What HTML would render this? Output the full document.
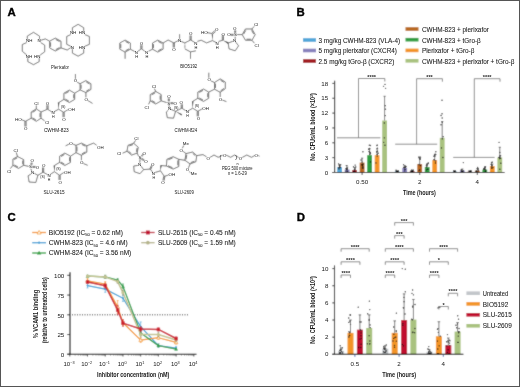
<!DOCTYPE html>
<html><head><meta charset="utf-8"><style>html,body{margin:0;padding:0;background:#fff;}svg{display:block;will-change:transform;}</style></head>
<body><svg width="520" height="387" viewBox="0 0 520 387" font-family="Liberation Sans, sans-serif"><defs><filter id="bl" filterUnits="userSpaceOnUse" x="0" y="0" width="520" height="387"><feConvolveMatrix order="3" kernelMatrix="0.03 0.08 0.03 0.08 0.56 0.08 0.03 0.08 0.03" preserveAlpha="false"/></filter></defs><g filter="url(#bl)"><rect x="0" y="0" width="520" height="387" fill="#fff"/><rect x="303.00" y="38.20" width="13.00" height="3.60" fill="#4fa6d9" />
<rect x="303.00" y="48.70" width="13.00" height="3.60" fill="#8781bd" />
<rect x="303.00" y="59.20" width="13.00" height="3.60" fill="#a0141f" />
<rect x="405.50" y="27.20" width="13.00" height="3.60" fill="#b8661f" />
<rect x="405.50" y="37.90" width="13.00" height="3.60" fill="#2f9e3f" />
<rect x="405.50" y="48.60" width="13.00" height="3.60" fill="#f39425" />
<rect x="405.50" y="59.00" width="13.00" height="3.60" fill="#a9c27f" />
<rect x="337.20" y="167.06" width="4.80" height="5.45" fill="#4fa6d9" />
<rect x="344.70" y="169.53" width="4.80" height="2.97" fill="#8781bd" />
<rect x="352.20" y="170.03" width="4.80" height="2.48" fill="#a0141f" />
<rect x="359.70" y="162.60" width="4.80" height="9.90" fill="#b8661f" />
<rect x="367.20" y="155.18" width="4.80" height="17.32" fill="#2f9e3f" />
<rect x="374.70" y="155.18" width="4.80" height="17.32" fill="#f39425" />
<rect x="382.20" y="120.53" width="4.80" height="51.98" fill="#a9c27f" />
<line x1="339.60" y1="165.07" x2="339.60" y2="167.06" stroke="#222" stroke-width="0.6" />
<line x1="338.50" y1="165.07" x2="340.70" y2="165.07" stroke="#222" stroke-width="0.6" />
<circle cx="338.57" cy="163.84" r="0.68" fill="#111"/>
<circle cx="338.62" cy="167.57" r="0.68" fill="#111"/>
<circle cx="339.42" cy="166.02" r="0.68" fill="#111"/>
<circle cx="340.38" cy="167.51" r="0.68" fill="#111"/>
<circle cx="338.70" cy="167.69" r="0.68" fill="#111"/>
<circle cx="338.94" cy="168.94" r="0.68" fill="#111"/>
<circle cx="339.91" cy="167.49" r="0.68" fill="#111"/>
<circle cx="340.67" cy="164.80" r="0.68" fill="#111"/>
<circle cx="339.79" cy="166.19" r="0.68" fill="#111"/>
<circle cx="339.35" cy="164.95" r="0.68" fill="#111"/>
<line x1="347.10" y1="167.06" x2="347.10" y2="169.53" stroke="#222" stroke-width="0.6" />
<line x1="346.00" y1="167.06" x2="348.20" y2="167.06" stroke="#222" stroke-width="0.6" />
<circle cx="346.33" cy="165.57" r="0.68" fill="#111"/>
<circle cx="347.30" cy="168.91" r="0.68" fill="#111"/>
<circle cx="347.43" cy="168.77" r="0.68" fill="#111"/>
<circle cx="346.79" cy="169.64" r="0.68" fill="#111"/>
<circle cx="347.21" cy="168.24" r="0.68" fill="#111"/>
<circle cx="346.05" cy="171.12" r="0.68" fill="#111"/>
<circle cx="346.04" cy="168.77" r="0.68" fill="#111"/>
<circle cx="346.39" cy="168.55" r="0.68" fill="#111"/>
<circle cx="347.53" cy="171.17" r="0.68" fill="#111"/>
<circle cx="346.93" cy="165.57" r="0.68" fill="#111"/>
<line x1="354.60" y1="167.55" x2="354.60" y2="170.03" stroke="#222" stroke-width="0.6" />
<line x1="353.50" y1="167.55" x2="355.70" y2="167.55" stroke="#222" stroke-width="0.6" />
<circle cx="355.15" cy="165.07" r="0.68" fill="#111"/>
<circle cx="354.09" cy="171.31" r="0.68" fill="#111"/>
<circle cx="355.75" cy="167.00" r="0.68" fill="#111"/>
<circle cx="353.68" cy="172.02" r="0.68" fill="#111"/>
<circle cx="354.40" cy="169.42" r="0.68" fill="#111"/>
<circle cx="355.22" cy="168.97" r="0.68" fill="#111"/>
<circle cx="353.76" cy="172.25" r="0.68" fill="#111"/>
<circle cx="354.57" cy="169.91" r="0.68" fill="#111"/>
<circle cx="353.49" cy="166.79" r="0.68" fill="#111"/>
<circle cx="355.00" cy="172.25" r="0.68" fill="#111"/>
<line x1="362.10" y1="158.15" x2="362.10" y2="162.60" stroke="#222" stroke-width="0.6" />
<line x1="361.00" y1="158.15" x2="363.20" y2="158.15" stroke="#222" stroke-width="0.6" />
<circle cx="362.92" cy="151.71" r="0.68" fill="#111"/>
<circle cx="363.17" cy="163.97" r="0.68" fill="#111"/>
<circle cx="362.04" cy="162.09" r="0.68" fill="#111"/>
<circle cx="362.49" cy="167.95" r="0.68" fill="#111"/>
<circle cx="361.05" cy="159.98" r="0.68" fill="#111"/>
<circle cx="362.58" cy="165.20" r="0.68" fill="#111"/>
<circle cx="362.45" cy="164.53" r="0.68" fill="#111"/>
<circle cx="363.28" cy="167.95" r="0.68" fill="#111"/>
<circle cx="362.87" cy="166.72" r="0.68" fill="#111"/>
<circle cx="361.58" cy="164.86" r="0.68" fill="#111"/>
<line x1="369.60" y1="148.74" x2="369.60" y2="155.18" stroke="#222" stroke-width="0.6" />
<line x1="368.50" y1="148.74" x2="370.70" y2="148.74" stroke="#222" stroke-width="0.6" />
<circle cx="369.34" cy="145.28" r="0.68" fill="#111"/>
<circle cx="370.49" cy="161.94" r="0.68" fill="#111"/>
<circle cx="368.59" cy="149.27" r="0.68" fill="#111"/>
<circle cx="369.48" cy="148.52" r="0.68" fill="#111"/>
<circle cx="369.72" cy="154.23" r="0.68" fill="#111"/>
<circle cx="370.52" cy="153.69" r="0.68" fill="#111"/>
<circle cx="370.37" cy="152.55" r="0.68" fill="#111"/>
<circle cx="370.47" cy="145.55" r="0.68" fill="#111"/>
<circle cx="369.07" cy="151.44" r="0.68" fill="#111"/>
<circle cx="369.40" cy="152.04" r="0.68" fill="#111"/>
<line x1="377.10" y1="148.74" x2="377.10" y2="155.18" stroke="#222" stroke-width="0.6" />
<line x1="376.00" y1="148.74" x2="378.20" y2="148.74" stroke="#222" stroke-width="0.6" />
<circle cx="377.31" cy="145.28" r="0.68" fill="#111"/>
<circle cx="376.53" cy="151.87" r="0.68" fill="#111"/>
<circle cx="375.91" cy="162.90" r="0.68" fill="#111"/>
<circle cx="376.91" cy="145.45" r="0.68" fill="#111"/>
<circle cx="376.79" cy="151.84" r="0.68" fill="#111"/>
<circle cx="377.26" cy="156.08" r="0.68" fill="#111"/>
<circle cx="378.19" cy="153.21" r="0.68" fill="#111"/>
<circle cx="377.56" cy="151.25" r="0.68" fill="#111"/>
<circle cx="377.14" cy="154.45" r="0.68" fill="#111"/>
<circle cx="377.38" cy="148.26" r="0.68" fill="#111"/>
<line x1="384.60" y1="96.27" x2="384.60" y2="120.53" stroke="#222" stroke-width="0.6" />
<line x1="383.50" y1="96.27" x2="385.70" y2="96.27" stroke="#222" stroke-width="0.6" />
<circle cx="385.02" cy="84.39" r="0.68" fill="#111"/>
<circle cx="383.53" cy="86.37" r="0.68" fill="#111"/>
<circle cx="385.56" cy="88.35" r="0.68" fill="#111"/>
<circle cx="385.27" cy="105.67" r="0.68" fill="#111"/>
<circle cx="385.50" cy="109.14" r="0.68" fill="#111"/>
<circle cx="385.31" cy="115.57" r="0.68" fill="#111"/>
<circle cx="384.34" cy="123.00" r="0.68" fill="#111"/>
<circle cx="384.36" cy="137.85" r="0.68" fill="#111"/>
<circle cx="383.65" cy="142.31" r="0.68" fill="#111"/>
<circle cx="384.92" cy="145.28" r="0.68" fill="#111"/>
<line x1="362.10" y1="172.50" x2="362.10" y2="175.00" stroke="#000" stroke-width="0.7" />
<rect x="394.80" y="171.51" width="4.80" height="0.99" fill="#4fa6d9" />
<rect x="402.30" y="168.04" width="4.80" height="4.46" fill="#8781bd" />
<rect x="409.80" y="171.26" width="4.80" height="1.24" fill="#a0141f" />
<rect x="417.30" y="164.09" width="4.80" height="8.42" fill="#b8661f" />
<rect x="424.80" y="167.06" width="4.80" height="5.45" fill="#2f9e3f" />
<rect x="432.30" y="160.12" width="4.80" height="12.38" fill="#f39425" />
<rect x="439.80" y="137.85" width="4.80" height="34.65" fill="#a9c27f" />
<line x1="397.20" y1="171.01" x2="397.20" y2="171.51" stroke="#222" stroke-width="0.6" />
<line x1="396.10" y1="171.01" x2="398.30" y2="171.01" stroke="#222" stroke-width="0.6" />
<circle cx="396.06" cy="170.27" r="0.68" fill="#111"/>
<circle cx="398.10" cy="171.27" r="0.68" fill="#111"/>
<circle cx="397.47" cy="171.41" r="0.68" fill="#111"/>
<circle cx="396.36" cy="171.40" r="0.68" fill="#111"/>
<circle cx="396.61" cy="171.11" r="0.68" fill="#111"/>
<circle cx="396.83" cy="171.63" r="0.68" fill="#111"/>
<circle cx="396.87" cy="171.32" r="0.68" fill="#111"/>
<circle cx="396.29" cy="171.11" r="0.68" fill="#111"/>
<circle cx="398.04" cy="171.51" r="0.68" fill="#111"/>
<circle cx="398.38" cy="170.98" r="0.68" fill="#111"/>
<line x1="404.70" y1="165.57" x2="404.70" y2="168.04" stroke="#222" stroke-width="0.6" />
<line x1="403.60" y1="165.57" x2="405.80" y2="165.57" stroke="#222" stroke-width="0.6" />
<circle cx="403.56" cy="164.58" r="0.68" fill="#111"/>
<circle cx="405.78" cy="166.64" r="0.68" fill="#111"/>
<circle cx="404.77" cy="170.83" r="0.68" fill="#111"/>
<circle cx="403.85" cy="167.44" r="0.68" fill="#111"/>
<circle cx="404.80" cy="167.06" r="0.68" fill="#111"/>
<circle cx="403.56" cy="167.45" r="0.68" fill="#111"/>
<circle cx="404.77" cy="169.11" r="0.68" fill="#111"/>
<circle cx="405.85" cy="166.42" r="0.68" fill="#111"/>
<circle cx="405.57" cy="167.35" r="0.68" fill="#111"/>
<circle cx="405.17" cy="169.34" r="0.68" fill="#111"/>
<line x1="412.20" y1="170.77" x2="412.20" y2="171.26" stroke="#222" stroke-width="0.6" />
<line x1="411.10" y1="170.77" x2="413.30" y2="170.77" stroke="#222" stroke-width="0.6" />
<circle cx="413.05" cy="170.03" r="0.68" fill="#111"/>
<circle cx="412.93" cy="171.31" r="0.68" fill="#111"/>
<circle cx="412.96" cy="170.60" r="0.68" fill="#111"/>
<circle cx="412.78" cy="170.67" r="0.68" fill="#111"/>
<circle cx="411.54" cy="170.23" r="0.68" fill="#111"/>
<circle cx="412.24" cy="171.86" r="0.68" fill="#111"/>
<circle cx="411.85" cy="171.51" r="0.68" fill="#111"/>
<circle cx="411.07" cy="171.50" r="0.68" fill="#111"/>
<circle cx="411.07" cy="170.83" r="0.68" fill="#111"/>
<circle cx="411.67" cy="170.51" r="0.68" fill="#111"/>
<line x1="419.70" y1="158.64" x2="419.70" y2="164.09" stroke="#222" stroke-width="0.6" />
<line x1="418.60" y1="158.64" x2="420.80" y2="158.64" stroke="#222" stroke-width="0.6" />
<circle cx="419.03" cy="157.16" r="0.68" fill="#111"/>
<circle cx="419.04" cy="170.62" r="0.68" fill="#111"/>
<circle cx="418.97" cy="164.54" r="0.68" fill="#111"/>
<circle cx="418.99" cy="157.16" r="0.68" fill="#111"/>
<circle cx="420.00" cy="158.69" r="0.68" fill="#111"/>
<circle cx="420.66" cy="165.60" r="0.68" fill="#111"/>
<circle cx="420.52" cy="157.16" r="0.68" fill="#111"/>
<circle cx="419.65" cy="169.99" r="0.68" fill="#111"/>
<circle cx="420.07" cy="159.38" r="0.68" fill="#111"/>
<circle cx="420.42" cy="165.45" r="0.68" fill="#111"/>
<line x1="427.20" y1="164.58" x2="427.20" y2="167.06" stroke="#222" stroke-width="0.6" />
<line x1="426.10" y1="164.58" x2="428.30" y2="164.58" stroke="#222" stroke-width="0.6" />
<circle cx="428.33" cy="163.09" r="0.68" fill="#111"/>
<circle cx="426.95" cy="163.92" r="0.68" fill="#111"/>
<circle cx="426.96" cy="165.21" r="0.68" fill="#111"/>
<circle cx="428.27" cy="163.41" r="0.68" fill="#111"/>
<circle cx="427.74" cy="169.38" r="0.68" fill="#111"/>
<circle cx="426.41" cy="167.05" r="0.68" fill="#111"/>
<circle cx="426.30" cy="169.88" r="0.68" fill="#111"/>
<circle cx="426.36" cy="165.16" r="0.68" fill="#111"/>
<circle cx="428.17" cy="163.12" r="0.68" fill="#111"/>
<circle cx="427.94" cy="169.26" r="0.68" fill="#111"/>
<line x1="434.70" y1="156.16" x2="434.70" y2="160.12" stroke="#222" stroke-width="0.6" />
<line x1="433.60" y1="156.16" x2="435.80" y2="156.16" stroke="#222" stroke-width="0.6" />
<circle cx="435.83" cy="151.71" r="0.68" fill="#111"/>
<circle cx="435.06" cy="154.18" r="0.68" fill="#111"/>
<circle cx="434.76" cy="155.79" r="0.68" fill="#111"/>
<circle cx="435.74" cy="154.46" r="0.68" fill="#111"/>
<circle cx="434.54" cy="154.59" r="0.68" fill="#111"/>
<circle cx="435.59" cy="160.81" r="0.68" fill="#111"/>
<circle cx="435.48" cy="162.96" r="0.68" fill="#111"/>
<circle cx="434.01" cy="156.24" r="0.68" fill="#111"/>
<circle cx="434.10" cy="159.69" r="0.68" fill="#111"/>
<circle cx="434.20" cy="159.65" r="0.68" fill="#111"/>
<line x1="442.20" y1="121.51" x2="442.20" y2="137.85" stroke="#222" stroke-width="0.6" />
<line x1="441.10" y1="121.51" x2="443.30" y2="121.51" stroke="#222" stroke-width="0.6" />
<circle cx="442.01" cy="100.23" r="0.68" fill="#111"/>
<circle cx="443.20" cy="136.67" r="0.68" fill="#111"/>
<circle cx="442.20" cy="118.02" r="0.68" fill="#111"/>
<circle cx="442.28" cy="138.77" r="0.68" fill="#111"/>
<circle cx="442.26" cy="122.30" r="0.68" fill="#111"/>
<circle cx="441.04" cy="115.55" r="0.68" fill="#111"/>
<circle cx="442.06" cy="113.78" r="0.68" fill="#111"/>
<circle cx="441.44" cy="147.89" r="0.68" fill="#111"/>
<circle cx="441.01" cy="124.70" r="0.68" fill="#111"/>
<circle cx="442.92" cy="157.45" r="0.68" fill="#111"/>
<line x1="419.70" y1="172.50" x2="419.70" y2="175.00" stroke="#000" stroke-width="0.7" />
<rect x="452.40" y="171.76" width="4.80" height="0.74" fill="#4fa6d9" />
<rect x="459.90" y="170.52" width="4.80" height="1.98" fill="#8781bd" />
<rect x="467.40" y="171.76" width="4.80" height="0.74" fill="#a0141f" />
<rect x="474.90" y="170.77" width="4.80" height="1.73" fill="#b8661f" />
<rect x="482.40" y="169.53" width="4.80" height="2.97" fill="#2f9e3f" />
<rect x="489.90" y="166.06" width="4.80" height="6.44" fill="#f39425" />
<rect x="497.40" y="157.40" width="4.80" height="15.10" fill="#a9c27f" />
<line x1="454.80" y1="171.26" x2="454.80" y2="171.76" stroke="#222" stroke-width="0.6" />
<line x1="453.70" y1="171.26" x2="455.90" y2="171.26" stroke="#222" stroke-width="0.6" />
<circle cx="453.85" cy="170.77" r="0.68" fill="#111"/>
<circle cx="454.94" cy="172.25" r="0.68" fill="#111"/>
<circle cx="454.20" cy="171.39" r="0.68" fill="#111"/>
<circle cx="454.26" cy="171.06" r="0.68" fill="#111"/>
<circle cx="455.45" cy="171.89" r="0.68" fill="#111"/>
<circle cx="454.82" cy="172.25" r="0.68" fill="#111"/>
<circle cx="454.95" cy="172.14" r="0.68" fill="#111"/>
<circle cx="455.42" cy="171.01" r="0.68" fill="#111"/>
<circle cx="455.79" cy="172.25" r="0.68" fill="#111"/>
<circle cx="454.66" cy="172.17" r="0.68" fill="#111"/>
<line x1="462.30" y1="169.03" x2="462.30" y2="170.52" stroke="#222" stroke-width="0.6" />
<line x1="461.20" y1="169.03" x2="463.40" y2="169.03" stroke="#222" stroke-width="0.6" />
<circle cx="463.36" cy="162.60" r="0.68" fill="#111"/>
<circle cx="461.72" cy="171.95" r="0.68" fill="#111"/>
<circle cx="462.44" cy="171.74" r="0.68" fill="#111"/>
<circle cx="463.36" cy="172.25" r="0.68" fill="#111"/>
<circle cx="463.12" cy="170.71" r="0.68" fill="#111"/>
<circle cx="461.43" cy="172.25" r="0.68" fill="#111"/>
<circle cx="461.39" cy="169.94" r="0.68" fill="#111"/>
<circle cx="462.16" cy="172.25" r="0.68" fill="#111"/>
<circle cx="461.27" cy="170.00" r="0.68" fill="#111"/>
<circle cx="461.68" cy="171.54" r="0.68" fill="#111"/>
<line x1="469.80" y1="171.26" x2="469.80" y2="171.76" stroke="#222" stroke-width="0.6" />
<line x1="468.70" y1="171.26" x2="470.90" y2="171.26" stroke="#222" stroke-width="0.6" />
<circle cx="470.72" cy="170.77" r="0.68" fill="#111"/>
<circle cx="470.92" cy="172.25" r="0.68" fill="#111"/>
<circle cx="469.13" cy="170.83" r="0.68" fill="#111"/>
<circle cx="470.89" cy="171.30" r="0.68" fill="#111"/>
<circle cx="469.56" cy="171.44" r="0.68" fill="#111"/>
<circle cx="469.77" cy="172.25" r="0.68" fill="#111"/>
<circle cx="470.98" cy="171.14" r="0.68" fill="#111"/>
<circle cx="470.60" cy="170.85" r="0.68" fill="#111"/>
<circle cx="468.99" cy="171.96" r="0.68" fill="#111"/>
<circle cx="469.64" cy="172.08" r="0.68" fill="#111"/>
<line x1="477.30" y1="168.54" x2="477.30" y2="170.77" stroke="#222" stroke-width="0.6" />
<line x1="476.20" y1="168.54" x2="478.40" y2="168.54" stroke="#222" stroke-width="0.6" />
<circle cx="477.60" cy="167.55" r="0.68" fill="#111"/>
<circle cx="477.33" cy="172.25" r="0.68" fill="#111"/>
<circle cx="476.25" cy="170.97" r="0.68" fill="#111"/>
<circle cx="478.46" cy="170.11" r="0.68" fill="#111"/>
<circle cx="477.99" cy="168.91" r="0.68" fill="#111"/>
<circle cx="478.43" cy="170.85" r="0.68" fill="#111"/>
<circle cx="476.35" cy="171.21" r="0.68" fill="#111"/>
<circle cx="476.74" cy="172.25" r="0.68" fill="#111"/>
<circle cx="476.20" cy="171.58" r="0.68" fill="#111"/>
<circle cx="477.97" cy="168.76" r="0.68" fill="#111"/>
<line x1="484.80" y1="168.04" x2="484.80" y2="169.53" stroke="#222" stroke-width="0.6" />
<line x1="483.70" y1="168.04" x2="485.90" y2="168.04" stroke="#222" stroke-width="0.6" />
<circle cx="484.97" cy="166.56" r="0.68" fill="#111"/>
<circle cx="485.28" cy="169.37" r="0.68" fill="#111"/>
<circle cx="483.81" cy="169.64" r="0.68" fill="#111"/>
<circle cx="483.74" cy="168.70" r="0.68" fill="#111"/>
<circle cx="485.25" cy="171.31" r="0.68" fill="#111"/>
<circle cx="484.62" cy="167.89" r="0.68" fill="#111"/>
<circle cx="483.77" cy="169.02" r="0.68" fill="#111"/>
<circle cx="485.85" cy="170.64" r="0.68" fill="#111"/>
<circle cx="485.12" cy="167.43" r="0.68" fill="#111"/>
<circle cx="485.52" cy="166.66" r="0.68" fill="#111"/>
<line x1="492.30" y1="164.09" x2="492.30" y2="166.06" stroke="#222" stroke-width="0.6" />
<line x1="491.20" y1="164.09" x2="493.40" y2="164.09" stroke="#222" stroke-width="0.6" />
<circle cx="492.36" cy="162.10" r="0.68" fill="#111"/>
<circle cx="491.67" cy="162.61" r="0.68" fill="#111"/>
<circle cx="491.36" cy="164.06" r="0.68" fill="#111"/>
<circle cx="491.49" cy="162.37" r="0.68" fill="#111"/>
<circle cx="491.22" cy="164.42" r="0.68" fill="#111"/>
<circle cx="491.58" cy="167.83" r="0.68" fill="#111"/>
<circle cx="491.85" cy="165.54" r="0.68" fill="#111"/>
<circle cx="491.83" cy="168.44" r="0.68" fill="#111"/>
<circle cx="492.92" cy="167.58" r="0.68" fill="#111"/>
<circle cx="491.80" cy="166.18" r="0.68" fill="#111"/>
<line x1="499.80" y1="147.25" x2="499.80" y2="157.40" stroke="#222" stroke-width="0.6" />
<line x1="498.70" y1="147.25" x2="500.90" y2="147.25" stroke="#222" stroke-width="0.6" />
<circle cx="499.05" cy="142.31" r="0.68" fill="#111"/>
<circle cx="499.74" cy="152.50" r="0.68" fill="#111"/>
<circle cx="500.84" cy="163.27" r="0.68" fill="#111"/>
<circle cx="498.86" cy="157.41" r="0.68" fill="#111"/>
<circle cx="500.57" cy="158.43" r="0.68" fill="#111"/>
<circle cx="499.64" cy="155.93" r="0.68" fill="#111"/>
<circle cx="499.79" cy="157.41" r="0.68" fill="#111"/>
<circle cx="500.60" cy="155.75" r="0.68" fill="#111"/>
<circle cx="499.54" cy="158.66" r="0.68" fill="#111"/>
<circle cx="499.82" cy="169.21" r="0.68" fill="#111"/>
<line x1="477.30" y1="172.50" x2="477.30" y2="175.00" stroke="#000" stroke-width="0.7" />
<line x1="334.60" y1="80.70" x2="334.60" y2="173.00" stroke="#000" stroke-width="1.1" />
<line x1="332.30" y1="172.50" x2="504.50" y2="172.50" stroke="#000" stroke-width="1.1" />
<line x1="332.30" y1="172.50" x2="334.60" y2="172.50" stroke="#000" stroke-width="0.8" />
<line x1="332.30" y1="157.65" x2="334.60" y2="157.65" stroke="#000" stroke-width="0.8" />
<line x1="332.30" y1="142.80" x2="334.60" y2="142.80" stroke="#000" stroke-width="0.8" />
<line x1="332.30" y1="127.95" x2="334.60" y2="127.95" stroke="#000" stroke-width="0.8" />
<line x1="332.30" y1="113.10" x2="334.60" y2="113.10" stroke="#000" stroke-width="0.8" />
<line x1="332.30" y1="98.25" x2="334.60" y2="98.25" stroke="#000" stroke-width="0.8" />
<line x1="332.30" y1="83.40" x2="334.60" y2="83.40" stroke="#000" stroke-width="0.8" />
<line x1="337.00" y1="137.80" x2="380.40" y2="137.80" stroke="#6a6a6a" stroke-width="0.8" />
<line x1="358.50" y1="137.80" x2="358.50" y2="78.50" stroke="#6a6a6a" stroke-width="0.8" />
<line x1="358.50" y1="78.50" x2="384.80" y2="78.50" stroke="#6a6a6a" stroke-width="0.8" />
<line x1="384.80" y1="78.50" x2="384.80" y2="81.50" stroke="#6a6a6a" stroke-width="0.8" />
<line x1="395.20" y1="144.20" x2="437.20" y2="144.20" stroke="#6a6a6a" stroke-width="0.8" />
<line x1="416.60" y1="144.20" x2="416.60" y2="78.70" stroke="#6a6a6a" stroke-width="0.8" />
<line x1="416.60" y1="78.70" x2="442.40" y2="78.70" stroke="#6a6a6a" stroke-width="0.8" />
<line x1="442.40" y1="78.70" x2="442.40" y2="81.70" stroke="#6a6a6a" stroke-width="0.8" />
<line x1="453.20" y1="157.40" x2="494.60" y2="157.40" stroke="#6a6a6a" stroke-width="0.8" />
<line x1="474.30" y1="157.40" x2="474.30" y2="78.70" stroke="#6a6a6a" stroke-width="0.8" />
<line x1="474.30" y1="78.70" x2="500.00" y2="78.70" stroke="#6a6a6a" stroke-width="0.8" />
<line x1="500.00" y1="78.70" x2="500.00" y2="81.70" stroke="#6a6a6a" stroke-width="0.8" />
<line x1="32.20" y1="232.50" x2="46.00" y2="232.50" stroke="#f39425" stroke-width="1.3" />
<polygon points="39.10,230.43 41.17,234.00 37.03,234.00" fill="#fff" stroke="#f39425" stroke-width="0.7"/>
<line x1="32.20" y1="242.70" x2="46.00" y2="242.70" stroke="#3a9fd6" stroke-width="1.3" />
<circle cx="39.10" cy="242.70" r="1.15" fill="#3a9fd6"/>
<line x1="32.20" y1="253.00" x2="46.00" y2="253.00" stroke="#2f9e3f" stroke-width="1.3" />
<polygon points="39.10,250.81 41.29,254.61 36.91,254.61" fill="#2f9e3f"/>
<line x1="141.20" y1="232.50" x2="154.60" y2="232.50" stroke="#c0102e" stroke-width="1.3" />
<rect x="145.94" y="230.54" width="3.91" height="3.91" fill="#c0102e" />
<line x1="141.20" y1="242.70" x2="154.60" y2="242.70" stroke="#b4b38a" stroke-width="1.3" />
<circle cx="147.90" cy="242.70" r="1.8399999999999999" fill="#b4b38a"/>
<line x1="70.00" y1="272.20" x2="70.00" y2="354.80" stroke="#000" stroke-width="1.1" />
<line x1="67.20" y1="354.30" x2="196.50" y2="354.30" stroke="#000" stroke-width="1.1" />
<line x1="67.20" y1="354.30" x2="70.00" y2="354.30" stroke="#000" stroke-width="0.8" />
<line x1="67.20" y1="334.55" x2="70.00" y2="334.55" stroke="#000" stroke-width="0.8" />
<line x1="67.20" y1="314.80" x2="70.00" y2="314.80" stroke="#000" stroke-width="0.8" />
<line x1="67.20" y1="295.05" x2="70.00" y2="295.05" stroke="#000" stroke-width="0.8" />
<line x1="67.20" y1="275.30" x2="70.00" y2="275.30" stroke="#000" stroke-width="0.8" />
<line x1="69.80" y1="354.30" x2="69.80" y2="356.50" stroke="#000" stroke-width="0.7" />
<line x1="75.13" y1="354.30" x2="75.13" y2="355.50" stroke="#000" stroke-width="0.5" />
<line x1="78.25" y1="354.30" x2="78.25" y2="355.50" stroke="#000" stroke-width="0.5" />
<line x1="80.47" y1="354.30" x2="80.47" y2="355.50" stroke="#000" stroke-width="0.5" />
<line x1="82.19" y1="354.30" x2="82.19" y2="355.50" stroke="#000" stroke-width="0.5" />
<line x1="83.59" y1="354.30" x2="83.59" y2="355.50" stroke="#000" stroke-width="0.5" />
<line x1="84.78" y1="354.30" x2="84.78" y2="355.50" stroke="#000" stroke-width="0.5" />
<line x1="85.80" y1="354.30" x2="85.80" y2="355.50" stroke="#000" stroke-width="0.5" />
<line x1="86.71" y1="354.30" x2="86.71" y2="355.50" stroke="#000" stroke-width="0.5" />
<line x1="87.52" y1="354.30" x2="87.52" y2="356.50" stroke="#000" stroke-width="0.7" />
<line x1="92.85" y1="354.30" x2="92.85" y2="355.50" stroke="#000" stroke-width="0.5" />
<line x1="95.97" y1="354.30" x2="95.97" y2="355.50" stroke="#000" stroke-width="0.5" />
<line x1="98.19" y1="354.30" x2="98.19" y2="355.50" stroke="#000" stroke-width="0.5" />
<line x1="99.91" y1="354.30" x2="99.91" y2="355.50" stroke="#000" stroke-width="0.5" />
<line x1="101.31" y1="354.30" x2="101.31" y2="355.50" stroke="#000" stroke-width="0.5" />
<line x1="102.50" y1="354.30" x2="102.50" y2="355.50" stroke="#000" stroke-width="0.5" />
<line x1="103.52" y1="354.30" x2="103.52" y2="355.50" stroke="#000" stroke-width="0.5" />
<line x1="104.43" y1="354.30" x2="104.43" y2="355.50" stroke="#000" stroke-width="0.5" />
<line x1="105.24" y1="354.30" x2="105.24" y2="356.50" stroke="#000" stroke-width="0.7" />
<line x1="110.57" y1="354.30" x2="110.57" y2="355.50" stroke="#000" stroke-width="0.5" />
<line x1="113.69" y1="354.30" x2="113.69" y2="355.50" stroke="#000" stroke-width="0.5" />
<line x1="115.91" y1="354.30" x2="115.91" y2="355.50" stroke="#000" stroke-width="0.5" />
<line x1="117.63" y1="354.30" x2="117.63" y2="355.50" stroke="#000" stroke-width="0.5" />
<line x1="119.03" y1="354.30" x2="119.03" y2="355.50" stroke="#000" stroke-width="0.5" />
<line x1="120.22" y1="354.30" x2="120.22" y2="355.50" stroke="#000" stroke-width="0.5" />
<line x1="121.24" y1="354.30" x2="121.24" y2="355.50" stroke="#000" stroke-width="0.5" />
<line x1="122.15" y1="354.30" x2="122.15" y2="355.50" stroke="#000" stroke-width="0.5" />
<line x1="122.96" y1="354.30" x2="122.96" y2="356.50" stroke="#000" stroke-width="0.7" />
<line x1="128.29" y1="354.30" x2="128.29" y2="355.50" stroke="#000" stroke-width="0.5" />
<line x1="131.41" y1="354.30" x2="131.41" y2="355.50" stroke="#000" stroke-width="0.5" />
<line x1="133.63" y1="354.30" x2="133.63" y2="355.50" stroke="#000" stroke-width="0.5" />
<line x1="135.35" y1="354.30" x2="135.35" y2="355.50" stroke="#000" stroke-width="0.5" />
<line x1="136.75" y1="354.30" x2="136.75" y2="355.50" stroke="#000" stroke-width="0.5" />
<line x1="137.94" y1="354.30" x2="137.94" y2="355.50" stroke="#000" stroke-width="0.5" />
<line x1="138.96" y1="354.30" x2="138.96" y2="355.50" stroke="#000" stroke-width="0.5" />
<line x1="139.87" y1="354.30" x2="139.87" y2="355.50" stroke="#000" stroke-width="0.5" />
<line x1="140.68" y1="354.30" x2="140.68" y2="356.50" stroke="#000" stroke-width="0.7" />
<line x1="146.01" y1="354.30" x2="146.01" y2="355.50" stroke="#000" stroke-width="0.5" />
<line x1="149.13" y1="354.30" x2="149.13" y2="355.50" stroke="#000" stroke-width="0.5" />
<line x1="151.35" y1="354.30" x2="151.35" y2="355.50" stroke="#000" stroke-width="0.5" />
<line x1="153.07" y1="354.30" x2="153.07" y2="355.50" stroke="#000" stroke-width="0.5" />
<line x1="154.47" y1="354.30" x2="154.47" y2="355.50" stroke="#000" stroke-width="0.5" />
<line x1="155.66" y1="354.30" x2="155.66" y2="355.50" stroke="#000" stroke-width="0.5" />
<line x1="156.68" y1="354.30" x2="156.68" y2="355.50" stroke="#000" stroke-width="0.5" />
<line x1="157.59" y1="354.30" x2="157.59" y2="355.50" stroke="#000" stroke-width="0.5" />
<line x1="158.40" y1="354.30" x2="158.40" y2="356.50" stroke="#000" stroke-width="0.7" />
<line x1="163.73" y1="354.30" x2="163.73" y2="355.50" stroke="#000" stroke-width="0.5" />
<line x1="166.85" y1="354.30" x2="166.85" y2="355.50" stroke="#000" stroke-width="0.5" />
<line x1="169.07" y1="354.30" x2="169.07" y2="355.50" stroke="#000" stroke-width="0.5" />
<line x1="170.79" y1="354.30" x2="170.79" y2="355.50" stroke="#000" stroke-width="0.5" />
<line x1="172.19" y1="354.30" x2="172.19" y2="355.50" stroke="#000" stroke-width="0.5" />
<line x1="173.38" y1="354.30" x2="173.38" y2="355.50" stroke="#000" stroke-width="0.5" />
<line x1="174.40" y1="354.30" x2="174.40" y2="355.50" stroke="#000" stroke-width="0.5" />
<line x1="175.31" y1="354.30" x2="175.31" y2="355.50" stroke="#000" stroke-width="0.5" />
<line x1="176.12" y1="354.30" x2="176.12" y2="356.50" stroke="#000" stroke-width="0.7" />
<line x1="181.45" y1="354.30" x2="181.45" y2="355.50" stroke="#000" stroke-width="0.5" />
<line x1="184.57" y1="354.30" x2="184.57" y2="355.50" stroke="#000" stroke-width="0.5" />
<line x1="186.79" y1="354.30" x2="186.79" y2="355.50" stroke="#000" stroke-width="0.5" />
<line x1="188.51" y1="354.30" x2="188.51" y2="355.50" stroke="#000" stroke-width="0.5" />
<line x1="189.91" y1="354.30" x2="189.91" y2="355.50" stroke="#000" stroke-width="0.5" />
<line x1="191.10" y1="354.30" x2="191.10" y2="355.50" stroke="#000" stroke-width="0.5" />
<line x1="192.12" y1="354.30" x2="192.12" y2="355.50" stroke="#000" stroke-width="0.5" />
<line x1="193.03" y1="354.30" x2="193.03" y2="355.50" stroke="#000" stroke-width="0.5" />
<line x1="193.84" y1="354.30" x2="193.84" y2="356.50" stroke="#000" stroke-width="0.7" />
<line x1="72" y1="314.80" x2="189" y2="314.80" stroke="#222" stroke-width="1.0" stroke-dasharray="1,1.5"/>
<polyline points="87.52,285.57 105.24,289.12 122.96,298.21 140.68,326.65 158.40,345.61 176.12,347.98" fill="none" stroke="#3a9fd6" stroke-width="1.2" stroke-linejoin="round" />
<line x1="87.52" y1="283.20" x2="87.52" y2="287.94" stroke="#3a9fd6" stroke-width="0.6" />
<line x1="86.52" y1="283.20" x2="88.52" y2="283.20" stroke="#3a9fd6" stroke-width="0.6" />
<line x1="86.52" y1="287.94" x2="88.52" y2="287.94" stroke="#3a9fd6" stroke-width="0.6" />
<circle cx="87.52" cy="285.57" r="1.0" fill="#3a9fd6"/>
<line x1="105.24" y1="285.97" x2="105.24" y2="292.29" stroke="#3a9fd6" stroke-width="0.6" />
<line x1="104.24" y1="285.97" x2="106.24" y2="285.97" stroke="#3a9fd6" stroke-width="0.6" />
<line x1="104.24" y1="292.29" x2="106.24" y2="292.29" stroke="#3a9fd6" stroke-width="0.6" />
<circle cx="105.24" cy="289.12" r="1.0" fill="#3a9fd6"/>
<line x1="122.96" y1="295.05" x2="122.96" y2="301.37" stroke="#3a9fd6" stroke-width="0.6" />
<line x1="121.96" y1="295.05" x2="123.96" y2="295.05" stroke="#3a9fd6" stroke-width="0.6" />
<line x1="121.96" y1="301.37" x2="123.96" y2="301.37" stroke="#3a9fd6" stroke-width="0.6" />
<circle cx="122.96" cy="298.21" r="1.0" fill="#3a9fd6"/>
<line x1="140.68" y1="321.91" x2="140.68" y2="331.39" stroke="#3a9fd6" stroke-width="0.6" />
<line x1="139.68" y1="321.91" x2="141.68" y2="321.91" stroke="#3a9fd6" stroke-width="0.6" />
<line x1="139.68" y1="331.39" x2="141.68" y2="331.39" stroke="#3a9fd6" stroke-width="0.6" />
<circle cx="140.68" cy="326.65" r="1.0" fill="#3a9fd6"/>
<line x1="158.40" y1="344.03" x2="158.40" y2="347.19" stroke="#3a9fd6" stroke-width="0.6" />
<line x1="157.40" y1="344.03" x2="159.40" y2="344.03" stroke="#3a9fd6" stroke-width="0.6" />
<line x1="157.40" y1="347.19" x2="159.40" y2="347.19" stroke="#3a9fd6" stroke-width="0.6" />
<circle cx="158.40" cy="345.61" r="1.0" fill="#3a9fd6"/>
<line x1="176.12" y1="346.40" x2="176.12" y2="349.56" stroke="#3a9fd6" stroke-width="0.6" />
<line x1="175.12" y1="346.40" x2="177.12" y2="346.40" stroke="#3a9fd6" stroke-width="0.6" />
<line x1="175.12" y1="349.56" x2="177.12" y2="349.56" stroke="#3a9fd6" stroke-width="0.6" />
<circle cx="176.12" cy="347.98" r="1.0" fill="#3a9fd6"/>
<polyline points="87.52,280.83 105.24,283.99 117.64,306.90 122.96,322.70 140.68,340.08 158.40,337.71 176.12,342.45" fill="none" stroke="#f39425" stroke-width="1.2" stroke-linejoin="round" />
<line x1="87.52" y1="278.46" x2="87.52" y2="283.20" stroke="#f39425" stroke-width="0.6" />
<line x1="86.52" y1="278.46" x2="88.52" y2="278.46" stroke="#f39425" stroke-width="0.6" />
<line x1="86.52" y1="283.20" x2="88.52" y2="283.20" stroke="#f39425" stroke-width="0.6" />
<polygon points="87.52,279.03 89.32,282.13 85.72,282.13" fill="#fff" stroke="#f39425" stroke-width="0.7"/>
<line x1="105.24" y1="281.62" x2="105.24" y2="286.36" stroke="#f39425" stroke-width="0.6" />
<line x1="104.24" y1="281.62" x2="106.24" y2="281.62" stroke="#f39425" stroke-width="0.6" />
<line x1="104.24" y1="286.36" x2="106.24" y2="286.36" stroke="#f39425" stroke-width="0.6" />
<polygon points="105.24,282.19 107.04,285.29 103.44,285.29" fill="#fff" stroke="#f39425" stroke-width="0.7"/>
<line x1="117.64" y1="300.58" x2="117.64" y2="313.22" stroke="#f39425" stroke-width="0.6" />
<line x1="116.64" y1="300.58" x2="118.64" y2="300.58" stroke="#f39425" stroke-width="0.6" />
<line x1="116.64" y1="313.22" x2="118.64" y2="313.22" stroke="#f39425" stroke-width="0.6" />
<polygon points="117.64,305.10 119.44,308.20 115.84,308.20" fill="#fff" stroke="#f39425" stroke-width="0.7"/>
<line x1="122.96" y1="319.54" x2="122.96" y2="325.86" stroke="#f39425" stroke-width="0.6" />
<line x1="121.96" y1="319.54" x2="123.96" y2="319.54" stroke="#f39425" stroke-width="0.6" />
<line x1="121.96" y1="325.86" x2="123.96" y2="325.86" stroke="#f39425" stroke-width="0.6" />
<polygon points="122.96,320.90 124.76,324.00 121.16,324.00" fill="#fff" stroke="#f39425" stroke-width="0.7"/>
<line x1="140.68" y1="337.71" x2="140.68" y2="342.45" stroke="#f39425" stroke-width="0.6" />
<line x1="139.68" y1="337.71" x2="141.68" y2="337.71" stroke="#f39425" stroke-width="0.6" />
<line x1="139.68" y1="342.45" x2="141.68" y2="342.45" stroke="#f39425" stroke-width="0.6" />
<polygon points="140.68,338.28 142.48,341.38 138.88,341.38" fill="#fff" stroke="#f39425" stroke-width="0.7"/>
<line x1="158.40" y1="336.13" x2="158.40" y2="339.29" stroke="#f39425" stroke-width="0.6" />
<line x1="157.40" y1="336.13" x2="159.40" y2="336.13" stroke="#f39425" stroke-width="0.6" />
<line x1="157.40" y1="339.29" x2="159.40" y2="339.29" stroke="#f39425" stroke-width="0.6" />
<polygon points="158.40,335.91 160.20,339.01 156.60,339.01" fill="#fff" stroke="#f39425" stroke-width="0.7"/>
<line x1="176.12" y1="340.87" x2="176.12" y2="344.03" stroke="#f39425" stroke-width="0.6" />
<line x1="175.12" y1="340.87" x2="177.12" y2="340.87" stroke="#f39425" stroke-width="0.6" />
<line x1="175.12" y1="344.03" x2="177.12" y2="344.03" stroke="#f39425" stroke-width="0.6" />
<polygon points="176.12,340.65 177.92,343.75 174.32,343.75" fill="#fff" stroke="#f39425" stroke-width="0.7"/>
<polyline points="87.52,276.09 105.24,276.88 117.64,280.04 122.96,286.36 140.68,332.97 158.40,345.61 176.12,349.17" fill="none" stroke="#2a9e4a" stroke-width="1.3" stroke-linejoin="round" />
<line x1="87.52" y1="275.30" x2="87.52" y2="276.88" stroke="#2a9e4a" stroke-width="0.6" />
<line x1="86.52" y1="275.30" x2="88.52" y2="275.30" stroke="#2a9e4a" stroke-width="0.6" />
<line x1="86.52" y1="276.88" x2="88.52" y2="276.88" stroke="#2a9e4a" stroke-width="0.6" />
<polygon points="87.52,274.19 89.42,277.49 85.62,277.49" fill="#2a9e4a"/>
<line x1="105.24" y1="275.30" x2="105.24" y2="278.46" stroke="#2a9e4a" stroke-width="0.6" />
<line x1="104.24" y1="275.30" x2="106.24" y2="275.30" stroke="#2a9e4a" stroke-width="0.6" />
<line x1="104.24" y1="278.46" x2="106.24" y2="278.46" stroke="#2a9e4a" stroke-width="0.6" />
<polygon points="105.24,274.98 107.14,278.28 103.34,278.28" fill="#2a9e4a"/>
<line x1="117.64" y1="278.46" x2="117.64" y2="281.62" stroke="#2a9e4a" stroke-width="0.6" />
<line x1="116.64" y1="278.46" x2="118.64" y2="278.46" stroke="#2a9e4a" stroke-width="0.6" />
<line x1="116.64" y1="281.62" x2="118.64" y2="281.62" stroke="#2a9e4a" stroke-width="0.6" />
<polygon points="117.64,278.14 119.54,281.44 115.74,281.44" fill="#2a9e4a"/>
<line x1="122.96" y1="283.99" x2="122.96" y2="288.73" stroke="#2a9e4a" stroke-width="0.6" />
<line x1="121.96" y1="283.99" x2="123.96" y2="283.99" stroke="#2a9e4a" stroke-width="0.6" />
<line x1="121.96" y1="288.73" x2="123.96" y2="288.73" stroke="#2a9e4a" stroke-width="0.6" />
<polygon points="122.96,284.46 124.86,287.76 121.06,287.76" fill="#2a9e4a"/>
<line x1="140.68" y1="330.60" x2="140.68" y2="335.34" stroke="#2a9e4a" stroke-width="0.6" />
<line x1="139.68" y1="330.60" x2="141.68" y2="330.60" stroke="#2a9e4a" stroke-width="0.6" />
<line x1="139.68" y1="335.34" x2="141.68" y2="335.34" stroke="#2a9e4a" stroke-width="0.6" />
<polygon points="140.68,331.07 142.58,334.37 138.78,334.37" fill="#2a9e4a"/>
<line x1="158.40" y1="344.03" x2="158.40" y2="347.19" stroke="#2a9e4a" stroke-width="0.6" />
<line x1="157.40" y1="344.03" x2="159.40" y2="344.03" stroke="#2a9e4a" stroke-width="0.6" />
<line x1="157.40" y1="347.19" x2="159.40" y2="347.19" stroke="#2a9e4a" stroke-width="0.6" />
<polygon points="158.40,343.71 160.30,347.01 156.50,347.01" fill="#2a9e4a"/>
<line x1="176.12" y1="348.38" x2="176.12" y2="349.95" stroke="#2a9e4a" stroke-width="0.6" />
<line x1="175.12" y1="348.38" x2="177.12" y2="348.38" stroke="#2a9e4a" stroke-width="0.6" />
<line x1="175.12" y1="349.95" x2="177.12" y2="349.95" stroke="#2a9e4a" stroke-width="0.6" />
<polygon points="176.12,347.27 178.02,350.56 174.22,350.56" fill="#2a9e4a"/>
<polyline points="87.52,276.09 105.24,276.88 117.64,281.62 122.96,292.68 140.68,334.55 158.40,334.55 176.12,340.08" fill="none" stroke="#c4c290" stroke-width="1.5" stroke-linejoin="round" />
<line x1="87.52" y1="275.30" x2="87.52" y2="276.88" stroke="#8a8a6a" stroke-width="0.6" />
<line x1="86.52" y1="275.30" x2="88.52" y2="275.30" stroke="#8a8a6a" stroke-width="0.6" />
<line x1="86.52" y1="276.88" x2="88.52" y2="276.88" stroke="#8a8a6a" stroke-width="0.6" />
<circle cx="87.52" cy="276.09" r="1.6" fill="#c4c290"/>
<line x1="105.24" y1="275.30" x2="105.24" y2="278.46" stroke="#8a8a6a" stroke-width="0.6" />
<line x1="104.24" y1="275.30" x2="106.24" y2="275.30" stroke="#8a8a6a" stroke-width="0.6" />
<line x1="104.24" y1="278.46" x2="106.24" y2="278.46" stroke="#8a8a6a" stroke-width="0.6" />
<circle cx="105.24" cy="276.88" r="1.6" fill="#c4c290"/>
<line x1="117.64" y1="280.04" x2="117.64" y2="283.20" stroke="#8a8a6a" stroke-width="0.6" />
<line x1="116.64" y1="280.04" x2="118.64" y2="280.04" stroke="#8a8a6a" stroke-width="0.6" />
<line x1="116.64" y1="283.20" x2="118.64" y2="283.20" stroke="#8a8a6a" stroke-width="0.6" />
<circle cx="117.64" cy="281.62" r="1.6" fill="#c4c290"/>
<line x1="122.96" y1="290.31" x2="122.96" y2="295.05" stroke="#8a8a6a" stroke-width="0.6" />
<line x1="121.96" y1="290.31" x2="123.96" y2="290.31" stroke="#8a8a6a" stroke-width="0.6" />
<line x1="121.96" y1="295.05" x2="123.96" y2="295.05" stroke="#8a8a6a" stroke-width="0.6" />
<circle cx="122.96" cy="292.68" r="1.6" fill="#c4c290"/>
<line x1="140.68" y1="332.18" x2="140.68" y2="336.92" stroke="#8a8a6a" stroke-width="0.6" />
<line x1="139.68" y1="332.18" x2="141.68" y2="332.18" stroke="#8a8a6a" stroke-width="0.6" />
<line x1="139.68" y1="336.92" x2="141.68" y2="336.92" stroke="#8a8a6a" stroke-width="0.6" />
<circle cx="140.68" cy="334.55" r="1.6" fill="#c4c290"/>
<line x1="158.40" y1="332.18" x2="158.40" y2="336.92" stroke="#8a8a6a" stroke-width="0.6" />
<line x1="157.40" y1="332.18" x2="159.40" y2="332.18" stroke="#8a8a6a" stroke-width="0.6" />
<line x1="157.40" y1="336.92" x2="159.40" y2="336.92" stroke="#8a8a6a" stroke-width="0.6" />
<circle cx="158.40" cy="334.55" r="1.6" fill="#c4c290"/>
<line x1="176.12" y1="338.50" x2="176.12" y2="341.66" stroke="#8a8a6a" stroke-width="0.6" />
<line x1="175.12" y1="338.50" x2="177.12" y2="338.50" stroke="#8a8a6a" stroke-width="0.6" />
<line x1="175.12" y1="341.66" x2="177.12" y2="341.66" stroke="#8a8a6a" stroke-width="0.6" />
<circle cx="176.12" cy="340.08" r="1.6" fill="#c4c290"/>
<polyline points="87.52,282.01 105.24,285.73 117.64,310.06 122.96,323.10 140.68,329.02 158.40,329.42 176.12,338.50" fill="none" stroke="#cc1a2c" stroke-width="1.5" stroke-linejoin="round" />
<line x1="87.52" y1="280.44" x2="87.52" y2="283.60" stroke="#cc1a2c" stroke-width="0.6" />
<line x1="86.52" y1="280.44" x2="88.52" y2="280.44" stroke="#cc1a2c" stroke-width="0.6" />
<line x1="86.52" y1="283.60" x2="88.52" y2="283.60" stroke="#cc1a2c" stroke-width="0.6" />
<rect x="85.82" y="280.31" width="3.40" height="3.40" fill="#cc1a2c" />
<line x1="105.24" y1="283.36" x2="105.24" y2="288.10" stroke="#cc1a2c" stroke-width="0.6" />
<line x1="104.24" y1="283.36" x2="106.24" y2="283.36" stroke="#cc1a2c" stroke-width="0.6" />
<line x1="104.24" y1="288.10" x2="106.24" y2="288.10" stroke="#cc1a2c" stroke-width="0.6" />
<rect x="103.54" y="284.03" width="3.40" height="3.40" fill="#cc1a2c" />
<line x1="117.64" y1="305.32" x2="117.64" y2="314.80" stroke="#cc1a2c" stroke-width="0.6" />
<line x1="116.64" y1="305.32" x2="118.64" y2="305.32" stroke="#cc1a2c" stroke-width="0.6" />
<line x1="116.64" y1="314.80" x2="118.64" y2="314.80" stroke="#cc1a2c" stroke-width="0.6" />
<rect x="115.94" y="308.36" width="3.40" height="3.40" fill="#cc1a2c" />
<line x1="122.96" y1="319.94" x2="122.96" y2="326.25" stroke="#cc1a2c" stroke-width="0.6" />
<line x1="121.96" y1="319.94" x2="123.96" y2="319.94" stroke="#cc1a2c" stroke-width="0.6" />
<line x1="121.96" y1="326.25" x2="123.96" y2="326.25" stroke="#cc1a2c" stroke-width="0.6" />
<rect x="121.26" y="321.40" width="3.40" height="3.40" fill="#cc1a2c" />
<line x1="140.68" y1="326.65" x2="140.68" y2="331.39" stroke="#cc1a2c" stroke-width="0.6" />
<line x1="139.68" y1="326.65" x2="141.68" y2="326.65" stroke="#cc1a2c" stroke-width="0.6" />
<line x1="139.68" y1="331.39" x2="141.68" y2="331.39" stroke="#cc1a2c" stroke-width="0.6" />
<rect x="138.98" y="327.32" width="3.40" height="3.40" fill="#cc1a2c" />
<line x1="158.40" y1="327.84" x2="158.40" y2="331.00" stroke="#cc1a2c" stroke-width="0.6" />
<line x1="157.40" y1="327.84" x2="159.40" y2="327.84" stroke="#cc1a2c" stroke-width="0.6" />
<line x1="157.40" y1="331.00" x2="159.40" y2="331.00" stroke="#cc1a2c" stroke-width="0.6" />
<rect x="156.70" y="327.72" width="3.40" height="3.40" fill="#cc1a2c" />
<line x1="176.12" y1="336.92" x2="176.12" y2="340.08" stroke="#cc1a2c" stroke-width="0.6" />
<line x1="175.12" y1="336.92" x2="177.12" y2="336.92" stroke="#cc1a2c" stroke-width="0.6" />
<line x1="175.12" y1="340.08" x2="177.12" y2="340.08" stroke="#cc1a2c" stroke-width="0.6" />
<rect x="174.42" y="336.80" width="3.40" height="3.40" fill="#cc1a2c" />
<rect x="338.10" y="350.87" width="6.00" height="3.43" fill="#c2c6ca" />
<rect x="347.50" y="332.88" width="6.00" height="21.43" fill="#f39425" />
<rect x="356.90" y="329.70" width="6.00" height="24.60" fill="#c0102e" />
<rect x="366.20" y="327.99" width="6.00" height="26.31" fill="#a9c27f" />
<line x1="341.10" y1="349.16" x2="341.10" y2="350.87" stroke="#222" stroke-width="0.6" />
<line x1="339.80" y1="349.16" x2="342.40" y2="349.16" stroke="#222" stroke-width="0.6" />
<circle cx="340.22" cy="345.73" r="0.68" fill="#111"/>
<circle cx="339.89" cy="352.93" r="0.68" fill="#111"/>
<circle cx="339.60" cy="352.93" r="0.68" fill="#111"/>
<circle cx="342.33" cy="352.92" r="0.68" fill="#111"/>
<circle cx="342.43" cy="347.76" r="0.68" fill="#111"/>
<circle cx="341.71" cy="351.62" r="0.68" fill="#111"/>
<circle cx="340.31" cy="352.93" r="0.68" fill="#111"/>
<circle cx="340.17" cy="352.38" r="0.68" fill="#111"/>
<circle cx="340.36" cy="349.85" r="0.68" fill="#111"/>
<circle cx="340.95" cy="349.89" r="0.68" fill="#111"/>
<circle cx="339.87" cy="350.52" r="0.68" fill="#111"/>
<circle cx="340.90" cy="347.95" r="0.68" fill="#111"/>
<line x1="350.50" y1="320.02" x2="350.50" y2="332.88" stroke="#222" stroke-width="0.6" />
<line x1="349.20" y1="320.02" x2="351.80" y2="320.02" stroke="#222" stroke-width="0.6" />
<circle cx="350.41" cy="314.88" r="0.68" fill="#111"/>
<circle cx="350.51" cy="324.40" r="0.68" fill="#111"/>
<circle cx="349.42" cy="335.42" r="0.68" fill="#111"/>
<circle cx="350.52" cy="314.88" r="0.68" fill="#111"/>
<circle cx="348.72" cy="318.00" r="0.68" fill="#111"/>
<circle cx="349.65" cy="335.46" r="0.68" fill="#111"/>
<circle cx="349.02" cy="331.79" r="0.68" fill="#111"/>
<circle cx="350.14" cy="314.88" r="0.68" fill="#111"/>
<circle cx="348.85" cy="336.99" r="0.68" fill="#111"/>
<circle cx="348.78" cy="322.39" r="0.68" fill="#111"/>
<circle cx="349.80" cy="321.11" r="0.68" fill="#111"/>
<circle cx="349.54" cy="332.80" r="0.68" fill="#111"/>
<line x1="359.90" y1="314.88" x2="359.90" y2="329.70" stroke="#222" stroke-width="0.6" />
<line x1="358.60" y1="314.88" x2="361.20" y2="314.88" stroke="#222" stroke-width="0.6" />
<circle cx="358.26" cy="307.17" r="0.68" fill="#111"/>
<circle cx="361.11" cy="344.22" r="0.68" fill="#111"/>
<circle cx="361.31" cy="338.36" r="0.68" fill="#111"/>
<circle cx="360.36" cy="329.64" r="0.68" fill="#111"/>
<circle cx="360.74" cy="347.50" r="0.68" fill="#111"/>
<circle cx="361.02" cy="335.71" r="0.68" fill="#111"/>
<circle cx="358.60" cy="347.50" r="0.68" fill="#111"/>
<circle cx="359.99" cy="339.11" r="0.68" fill="#111"/>
<circle cx="359.92" cy="321.88" r="0.68" fill="#111"/>
<circle cx="361.11" cy="321.90" r="0.68" fill="#111"/>
<circle cx="361.00" cy="330.45" r="0.68" fill="#111"/>
<circle cx="361.08" cy="332.90" r="0.68" fill="#111"/>
<line x1="369.20" y1="314.88" x2="369.20" y2="327.99" stroke="#222" stroke-width="0.6" />
<line x1="367.90" y1="314.88" x2="370.50" y2="314.88" stroke="#222" stroke-width="0.6" />
<circle cx="369.41" cy="301.17" r="0.68" fill="#111"/>
<circle cx="369.66" cy="343.72" r="0.68" fill="#111"/>
<circle cx="369.65" cy="343.72" r="0.68" fill="#111"/>
<circle cx="369.85" cy="341.02" r="0.68" fill="#111"/>
<circle cx="369.16" cy="335.69" r="0.68" fill="#111"/>
<circle cx="367.41" cy="343.72" r="0.68" fill="#111"/>
<circle cx="370.27" cy="327.60" r="0.68" fill="#111"/>
<circle cx="370.09" cy="324.94" r="0.68" fill="#111"/>
<circle cx="369.21" cy="320.24" r="0.68" fill="#111"/>
<circle cx="369.33" cy="319.40" r="0.68" fill="#111"/>
<circle cx="369.77" cy="309.61" r="0.68" fill="#111"/>
<circle cx="367.64" cy="313.75" r="0.68" fill="#111"/>
<line x1="354.90" y1="354.30" x2="354.90" y2="356.80" stroke="#3a5aa8" stroke-width="0.9" />
<rect x="382.30" y="348.73" width="6.00" height="5.57" fill="#c2c6ca" />
<rect x="391.70" y="332.88" width="6.00" height="21.43" fill="#f39425" />
<rect x="401.10" y="320.02" width="6.00" height="34.28" fill="#c0102e" />
<rect x="410.40" y="319.59" width="6.00" height="34.71" fill="#a9c27f" />
<line x1="385.30" y1="345.73" x2="385.30" y2="348.73" stroke="#222" stroke-width="0.6" />
<line x1="384.00" y1="345.73" x2="386.60" y2="345.73" stroke="#222" stroke-width="0.6" />
<circle cx="386.26" cy="344.87" r="0.68" fill="#111"/>
<circle cx="385.72" cy="348.93" r="0.68" fill="#111"/>
<circle cx="385.81" cy="351.11" r="0.68" fill="#111"/>
<circle cx="383.78" cy="346.54" r="0.68" fill="#111"/>
<circle cx="384.03" cy="347.62" r="0.68" fill="#111"/>
<circle cx="384.41" cy="349.00" r="0.68" fill="#111"/>
<circle cx="386.18" cy="350.83" r="0.68" fill="#111"/>
<circle cx="384.60" cy="349.27" r="0.68" fill="#111"/>
<circle cx="385.54" cy="352.33" r="0.68" fill="#111"/>
<circle cx="383.54" cy="351.80" r="0.68" fill="#111"/>
<circle cx="383.72" cy="348.61" r="0.68" fill="#111"/>
<circle cx="384.47" cy="352.33" r="0.68" fill="#111"/>
<line x1="394.70" y1="320.88" x2="394.70" y2="332.88" stroke="#222" stroke-width="0.6" />
<line x1="393.40" y1="320.88" x2="396.00" y2="320.88" stroke="#222" stroke-width="0.6" />
<circle cx="396.42" cy="313.16" r="0.68" fill="#111"/>
<circle cx="396.27" cy="330.64" r="0.68" fill="#111"/>
<circle cx="392.96" cy="340.99" r="0.68" fill="#111"/>
<circle cx="394.55" cy="347.27" r="0.68" fill="#111"/>
<circle cx="395.85" cy="337.06" r="0.68" fill="#111"/>
<circle cx="396.39" cy="341.19" r="0.68" fill="#111"/>
<circle cx="394.52" cy="345.36" r="0.68" fill="#111"/>
<circle cx="393.87" cy="334.18" r="0.68" fill="#111"/>
<circle cx="393.66" cy="338.39" r="0.68" fill="#111"/>
<circle cx="396.30" cy="331.69" r="0.68" fill="#111"/>
<circle cx="393.66" cy="327.00" r="0.68" fill="#111"/>
<circle cx="394.99" cy="337.51" r="0.68" fill="#111"/>
<line x1="404.10" y1="293.88" x2="404.10" y2="320.02" stroke="#222" stroke-width="0.6" />
<line x1="402.80" y1="293.88" x2="405.40" y2="293.88" stroke="#222" stroke-width="0.6" />
<circle cx="402.31" cy="268.60" r="0.68" fill="#111"/>
<circle cx="404.07" cy="301.66" r="0.68" fill="#111"/>
<circle cx="403.92" cy="297.33" r="0.68" fill="#111"/>
<circle cx="403.39" cy="307.80" r="0.68" fill="#111"/>
<circle cx="402.81" cy="323.76" r="0.68" fill="#111"/>
<circle cx="403.54" cy="307.82" r="0.68" fill="#111"/>
<circle cx="403.44" cy="345.84" r="0.68" fill="#111"/>
<circle cx="405.32" cy="291.72" r="0.68" fill="#111"/>
<circle cx="402.31" cy="344.39" r="0.68" fill="#111"/>
<circle cx="405.00" cy="314.05" r="0.68" fill="#111"/>
<circle cx="405.32" cy="269.22" r="0.68" fill="#111"/>
<circle cx="402.73" cy="325.37" r="0.68" fill="#111"/>
<line x1="413.40" y1="299.45" x2="413.40" y2="319.59" stroke="#222" stroke-width="0.6" />
<line x1="412.10" y1="299.45" x2="414.70" y2="299.45" stroke="#222" stroke-width="0.6" />
<circle cx="412.59" cy="290.02" r="0.68" fill="#111"/>
<circle cx="411.77" cy="319.23" r="0.68" fill="#111"/>
<circle cx="411.97" cy="293.35" r="0.68" fill="#111"/>
<circle cx="414.60" cy="332.67" r="0.68" fill="#111"/>
<circle cx="412.63" cy="307.08" r="0.68" fill="#111"/>
<circle cx="414.97" cy="328.49" r="0.68" fill="#111"/>
<circle cx="412.50" cy="332.47" r="0.68" fill="#111"/>
<circle cx="412.56" cy="306.26" r="0.68" fill="#111"/>
<circle cx="413.44" cy="294.84" r="0.68" fill="#111"/>
<circle cx="412.28" cy="319.78" r="0.68" fill="#111"/>
<circle cx="412.94" cy="332.16" r="0.68" fill="#111"/>
<circle cx="415.04" cy="304.54" r="0.68" fill="#111"/>
<line x1="399.10" y1="354.30" x2="399.10" y2="356.80" stroke="#3a5aa8" stroke-width="0.9" />
<rect x="426.50" y="351.73" width="6.00" height="2.57" fill="#c2c6ca" />
<rect x="435.90" y="336.30" width="6.00" height="18.00" fill="#f39425" />
<rect x="445.30" y="345.22" width="6.00" height="9.08" fill="#c0102e" />
<rect x="454.60" y="331.59" width="6.00" height="22.71" fill="#a9c27f" />
<line x1="429.50" y1="350.01" x2="429.50" y2="351.73" stroke="#222" stroke-width="0.6" />
<line x1="428.20" y1="350.01" x2="430.80" y2="350.01" stroke="#222" stroke-width="0.6" />
<circle cx="428.73" cy="346.59" r="0.68" fill="#111"/>
<circle cx="427.88" cy="349.04" r="0.68" fill="#111"/>
<circle cx="431.04" cy="353.79" r="0.68" fill="#111"/>
<circle cx="428.16" cy="353.79" r="0.68" fill="#111"/>
<circle cx="429.40" cy="353.79" r="0.68" fill="#111"/>
<circle cx="428.94" cy="349.41" r="0.68" fill="#111"/>
<circle cx="428.77" cy="352.63" r="0.68" fill="#111"/>
<circle cx="430.36" cy="351.85" r="0.68" fill="#111"/>
<circle cx="431.21" cy="352.35" r="0.68" fill="#111"/>
<circle cx="428.64" cy="351.97" r="0.68" fill="#111"/>
<circle cx="430.06" cy="353.79" r="0.68" fill="#111"/>
<circle cx="428.78" cy="351.68" r="0.68" fill="#111"/>
<line x1="438.90" y1="321.73" x2="438.90" y2="336.30" stroke="#222" stroke-width="0.6" />
<line x1="437.60" y1="321.73" x2="440.20" y2="321.73" stroke="#222" stroke-width="0.6" />
<circle cx="438.72" cy="307.17" r="0.68" fill="#111"/>
<circle cx="437.60" cy="353.79" r="0.68" fill="#111"/>
<circle cx="437.79" cy="348.99" r="0.68" fill="#111"/>
<circle cx="437.43" cy="341.08" r="0.68" fill="#111"/>
<circle cx="438.33" cy="332.31" r="0.68" fill="#111"/>
<circle cx="437.43" cy="329.32" r="0.68" fill="#111"/>
<circle cx="437.96" cy="328.60" r="0.68" fill="#111"/>
<circle cx="438.03" cy="307.89" r="0.68" fill="#111"/>
<circle cx="439.15" cy="345.85" r="0.68" fill="#111"/>
<circle cx="440.29" cy="336.13" r="0.68" fill="#111"/>
<circle cx="439.80" cy="307.17" r="0.68" fill="#111"/>
<circle cx="438.59" cy="353.79" r="0.68" fill="#111"/>
<line x1="448.30" y1="338.02" x2="448.30" y2="345.22" stroke="#222" stroke-width="0.6" />
<line x1="447.00" y1="338.02" x2="449.60" y2="338.02" stroke="#222" stroke-width="0.6" />
<circle cx="447.48" cy="334.59" r="0.68" fill="#111"/>
<circle cx="447.39" cy="352.43" r="0.68" fill="#111"/>
<circle cx="447.94" cy="340.88" r="0.68" fill="#111"/>
<circle cx="448.11" cy="349.71" r="0.68" fill="#111"/>
<circle cx="449.93" cy="340.83" r="0.68" fill="#111"/>
<circle cx="449.56" cy="340.06" r="0.68" fill="#111"/>
<circle cx="449.64" cy="343.10" r="0.68" fill="#111"/>
<circle cx="446.58" cy="341.71" r="0.68" fill="#111"/>
<circle cx="446.62" cy="345.94" r="0.68" fill="#111"/>
<circle cx="449.05" cy="353.85" r="0.68" fill="#111"/>
<circle cx="449.72" cy="345.42" r="0.68" fill="#111"/>
<circle cx="448.20" cy="342.08" r="0.68" fill="#111"/>
<line x1="457.60" y1="322.59" x2="457.60" y2="331.59" stroke="#222" stroke-width="0.6" />
<line x1="456.30" y1="322.59" x2="458.90" y2="322.59" stroke="#222" stroke-width="0.6" />
<circle cx="457.68" cy="315.74" r="0.68" fill="#111"/>
<circle cx="458.26" cy="336.10" r="0.68" fill="#111"/>
<circle cx="459.19" cy="331.73" r="0.68" fill="#111"/>
<circle cx="458.40" cy="331.67" r="0.68" fill="#111"/>
<circle cx="458.13" cy="342.39" r="0.68" fill="#111"/>
<circle cx="458.55" cy="319.30" r="0.68" fill="#111"/>
<circle cx="457.45" cy="323.92" r="0.68" fill="#111"/>
<circle cx="457.79" cy="342.39" r="0.68" fill="#111"/>
<circle cx="455.94" cy="325.24" r="0.68" fill="#111"/>
<circle cx="458.62" cy="332.71" r="0.68" fill="#111"/>
<circle cx="456.64" cy="327.77" r="0.68" fill="#111"/>
<circle cx="459.11" cy="328.46" r="0.68" fill="#111"/>
<line x1="443.30" y1="354.30" x2="443.30" y2="356.80" stroke="#3a5aa8" stroke-width="0.9" />
<line x1="334.50" y1="265.50" x2="334.50" y2="354.80" stroke="#000" stroke-width="1.1" />
<line x1="332.30" y1="354.30" x2="463.40" y2="354.30" stroke="#000" stroke-width="1.1" />
<line x1="332.30" y1="354.30" x2="334.50" y2="354.30" stroke="#000" stroke-width="0.8" />
<line x1="332.30" y1="337.16" x2="334.50" y2="337.16" stroke="#000" stroke-width="0.8" />
<line x1="332.30" y1="320.02" x2="334.50" y2="320.02" stroke="#000" stroke-width="0.8" />
<line x1="332.30" y1="302.88" x2="334.50" y2="302.88" stroke="#000" stroke-width="0.8" />
<line x1="332.30" y1="285.74" x2="334.50" y2="285.74" stroke="#000" stroke-width="0.8" />
<line x1="332.30" y1="268.60" x2="334.50" y2="268.60" stroke="#000" stroke-width="0.8" />
<line x1="341.10" y1="248.70" x2="369.20" y2="248.70" stroke="#6a6a6a" stroke-width="0.8" />
<line x1="341.10" y1="248.70" x2="341.10" y2="251.70" stroke="#6a6a6a" stroke-width="0.8" />
<line x1="369.20" y1="248.70" x2="369.20" y2="251.70" stroke="#6a6a6a" stroke-width="0.8" />
<line x1="341.10" y1="261.80" x2="359.90" y2="261.80" stroke="#6a6a6a" stroke-width="0.8" />
<line x1="341.10" y1="261.80" x2="341.10" y2="264.80" stroke="#6a6a6a" stroke-width="0.8" />
<line x1="359.90" y1="261.80" x2="359.90" y2="264.80" stroke="#6a6a6a" stroke-width="0.8" />
<line x1="341.10" y1="275.00" x2="350.50" y2="275.00" stroke="#6a6a6a" stroke-width="0.8" />
<line x1="341.10" y1="275.00" x2="341.10" y2="278.00" stroke="#6a6a6a" stroke-width="0.8" />
<line x1="350.50" y1="275.00" x2="350.50" y2="278.00" stroke="#6a6a6a" stroke-width="0.8" />
<line x1="385.30" y1="248.70" x2="413.40" y2="248.70" stroke="#6a6a6a" stroke-width="0.8" />
<line x1="385.30" y1="248.70" x2="385.30" y2="251.70" stroke="#6a6a6a" stroke-width="0.8" />
<line x1="413.40" y1="248.70" x2="413.40" y2="251.70" stroke="#6a6a6a" stroke-width="0.8" />
<line x1="385.30" y1="261.80" x2="404.10" y2="261.80" stroke="#6a6a6a" stroke-width="0.8" />
<line x1="385.30" y1="261.80" x2="385.30" y2="264.80" stroke="#6a6a6a" stroke-width="0.8" />
<line x1="404.10" y1="261.80" x2="404.10" y2="264.80" stroke="#6a6a6a" stroke-width="0.8" />
<line x1="385.30" y1="275.00" x2="394.70" y2="275.00" stroke="#6a6a6a" stroke-width="0.8" />
<line x1="385.30" y1="275.00" x2="385.30" y2="278.00" stroke="#6a6a6a" stroke-width="0.8" />
<line x1="394.70" y1="275.00" x2="394.70" y2="278.00" stroke="#6a6a6a" stroke-width="0.8" />
<line x1="429.50" y1="248.70" x2="457.60" y2="248.70" stroke="#6a6a6a" stroke-width="0.8" />
<line x1="429.50" y1="248.70" x2="429.50" y2="251.70" stroke="#6a6a6a" stroke-width="0.8" />
<line x1="457.60" y1="248.70" x2="457.60" y2="251.70" stroke="#6a6a6a" stroke-width="0.8" />
<line x1="429.50" y1="261.80" x2="448.30" y2="261.80" stroke="#6a6a6a" stroke-width="0.8" />
<line x1="429.50" y1="261.80" x2="429.50" y2="264.80" stroke="#6a6a6a" stroke-width="0.8" />
<line x1="448.30" y1="261.80" x2="448.30" y2="264.80" stroke="#6a6a6a" stroke-width="0.8" />
<line x1="429.50" y1="275.00" x2="438.90" y2="275.00" stroke="#6a6a6a" stroke-width="0.8" />
<line x1="429.50" y1="275.00" x2="429.50" y2="278.00" stroke="#6a6a6a" stroke-width="0.8" />
<line x1="438.90" y1="275.00" x2="438.90" y2="278.00" stroke="#6a6a6a" stroke-width="0.8" />
<line x1="394.70" y1="222.60" x2="413.40" y2="222.60" stroke="#6a6a6a" stroke-width="0.8" />
<line x1="394.70" y1="222.60" x2="394.70" y2="225.60" stroke="#6a6a6a" stroke-width="0.8" />
<line x1="413.40" y1="222.60" x2="413.40" y2="225.60" stroke="#6a6a6a" stroke-width="0.8" />
<line x1="394.70" y1="235.60" x2="404.10" y2="235.60" stroke="#6a6a6a" stroke-width="0.8" />
<line x1="394.70" y1="235.60" x2="394.70" y2="238.60" stroke="#6a6a6a" stroke-width="0.8" />
<line x1="404.10" y1="235.60" x2="404.10" y2="238.60" stroke="#6a6a6a" stroke-width="0.8" />
<line x1="448.30" y1="293.30" x2="457.60" y2="293.30" stroke="#6a6a6a" stroke-width="0.8" />
<line x1="448.30" y1="293.30" x2="448.30" y2="296.30" stroke="#6a6a6a" stroke-width="0.8" />
<line x1="457.60" y1="293.30" x2="457.60" y2="296.30" stroke="#6a6a6a" stroke-width="0.8" />
<line x1="438.90" y1="306.50" x2="448.30" y2="306.50" stroke="#6a6a6a" stroke-width="0.8" />
<line x1="438.90" y1="306.50" x2="438.90" y2="309.50" stroke="#6a6a6a" stroke-width="0.8" />
<line x1="448.30" y1="306.50" x2="448.30" y2="309.50" stroke="#6a6a6a" stroke-width="0.8" />
<rect x="466.40" y="291.40" width="13.50" height="3.60" fill="#c2c6ca" />
<rect x="466.40" y="302.10" width="13.50" height="3.60" fill="#f39425" />
<rect x="466.40" y="313.00" width="13.50" height="3.60" fill="#c0102e" />
<rect x="466.40" y="324.00" width="13.50" height="3.60" fill="#a9c27f" />
<polyline points="27.30,39.40 27.30,36.10 33.50,32.30 39.50,36.10 39.50,39.40" fill="none" stroke="#2a2a2a" stroke-width="0.68" stroke-linejoin="round" />
<polyline points="26.80,42.50 22.30,44.50 22.30,51.30 26.80,55.00" fill="none" stroke="#2a2a2a" stroke-width="0.68" stroke-linejoin="round" />
<polyline points="40.60,42.50 44.70,45.10 44.70,51.80 40.20,55.00" fill="none" stroke="#2a2a2a" stroke-width="0.68" stroke-linejoin="round" />
<polyline points="27.80,57.90 27.80,61.60 33.50,64.70 39.20,61.60 39.20,57.90" fill="none" stroke="#2a2a2a" stroke-width="0.68" stroke-linejoin="round" />
<polyline points="40.70,40.30 45.40,38.90 49.60,41.20" fill="none" stroke="#2a2a2a" stroke-width="0.68" stroke-linejoin="round" />
<polyline points="55.30,38.10 61.00,41.20 61.00,47.90 55.30,51.00 49.60,47.90 49.60,41.20 55.30,38.10" fill="none" stroke="#2a2a2a" stroke-width="0.68" stroke-linejoin="round" />
<line x1="55.77" y1="39.50" x2="59.54" y2="41.53" stroke="#2a2a2a" stroke-width="0.68" />
<line x1="59.54" y1="47.57" x2="55.77" y2="49.60" stroke="#2a2a2a" stroke-width="0.68" />
<line x1="50.59" y1="46.76" x2="50.59" y2="42.34" stroke="#2a2a2a" stroke-width="0.68" />
<polyline points="61.00,47.90 67.20,50.00 70.90,47.60" fill="none" stroke="#2a2a2a" stroke-width="0.68" stroke-linejoin="round" />
<polyline points="72.40,31.50 72.40,27.70 78.10,24.30 83.70,27.70 83.70,31.50" fill="none" stroke="#2a2a2a" stroke-width="0.68" stroke-linejoin="round" />
<polyline points="70.80,34.50 66.70,36.50 66.70,44.30 70.80,46.30" fill="none" stroke="#2a2a2a" stroke-width="0.68" stroke-linejoin="round" />
<polyline points="84.80,34.50 89.40,36.50 89.40,44.30 84.80,46.30" fill="none" stroke="#2a2a2a" stroke-width="0.68" stroke-linejoin="round" />
<polyline points="72.40,48.90 72.40,53.10 78.10,56.20 83.70,53.10 83.70,48.90" fill="none" stroke="#2a2a2a" stroke-width="0.68" stroke-linejoin="round" />
<polyline points="125.10,40.10 130.40,43.00 130.40,49.20 125.10,52.10 119.80,49.20 119.80,43.00 125.10,40.10" fill="none" stroke="#2a2a2a" stroke-width="0.68" stroke-linejoin="round" />
<line x1="125.53" y1="41.48" x2="128.98" y2="43.35" stroke="#2a2a2a" stroke-width="0.68" />
<line x1="128.98" y1="48.85" x2="125.53" y2="50.72" stroke="#2a2a2a" stroke-width="0.68" />
<line x1="120.79" y1="48.12" x2="120.79" y2="44.08" stroke="#2a2a2a" stroke-width="0.68" />
<polyline points="125.10,52.10 125.10,58.80" fill="none" stroke="#2a2a2a" stroke-width="0.68" stroke-linejoin="round" />
<polyline points="130.40,49.20 134.80,51.60" fill="none" stroke="#2a2a2a" stroke-width="0.68" stroke-linejoin="round" />
<polyline points="138.00,51.20 141.40,48.80 144.80,51.20" fill="none" stroke="#2a2a2a" stroke-width="0.68" stroke-linejoin="round" />
<line x1="142.00" y1="48.80" x2="142.00" y2="45.00" stroke="#2a2a2a" stroke-width="0.68" />
<line x1="140.80" y1="48.80" x2="140.80" y2="45.00" stroke="#2a2a2a" stroke-width="0.68" />
<polyline points="148.50,51.20 152.50,49.20" fill="none" stroke="#2a2a2a" stroke-width="0.68" stroke-linejoin="round" />
<polyline points="152.50,49.20 152.50,43.00 157.80,40.10 163.10,43.00 163.10,49.20 157.80,52.10 152.50,49.20" fill="none" stroke="#2a2a2a" stroke-width="0.68" stroke-linejoin="round" />
<line x1="153.49" y1="48.12" x2="153.49" y2="44.08" stroke="#2a2a2a" stroke-width="0.68" />
<line x1="158.23" y1="41.48" x2="161.68" y2="43.35" stroke="#2a2a2a" stroke-width="0.68" />
<line x1="161.68" y1="48.85" x2="158.23" y2="50.72" stroke="#2a2a2a" stroke-width="0.68" />
<polyline points="163.10,43.00 168.10,40.00 173.80,42.90 178.40,40.50" fill="none" stroke="#2a2a2a" stroke-width="0.68" stroke-linejoin="round" />
<line x1="173.20" y1="42.90" x2="173.20" y2="47.60" stroke="#2a2a2a" stroke-width="0.68" />
<line x1="174.40" y1="42.90" x2="174.40" y2="47.60" stroke="#2a2a2a" stroke-width="0.68" />
<polyline points="179.60,39.00 179.60,34.20" fill="none" stroke="#2a2a2a" stroke-width="0.68" stroke-linejoin="round" />
<polyline points="180.90,41.30 184.80,42.90 190.60,40.00 194.60,42.30" fill="none" stroke="#2a2a2a" stroke-width="0.68" stroke-linejoin="round" />
<line x1="184.90" y1="43.60" x2="184.90" y2="48.90" stroke="#2a2a2a" stroke-width="0.9" stroke-dasharray="0.6,0.7"/>
<polyline points="184.90,48.90 190.50,51.90 195.90,50.80" fill="none" stroke="#2a2a2a" stroke-width="0.68" stroke-linejoin="round" />
<polyline points="190.50,51.90 190.50,58.80" fill="none" stroke="#2a2a2a" stroke-width="0.68" stroke-linejoin="round" />
<line x1="191.20" y1="40.00" x2="191.20" y2="35.40" stroke="#2a2a2a" stroke-width="0.68" />
<line x1="190.00" y1="40.00" x2="190.00" y2="35.40" stroke="#2a2a2a" stroke-width="0.68" />
<polyline points="197.30,41.40 201.20,40.20 206.60,42.90 212.40,40.60" fill="none" stroke="#2a2a2a" stroke-width="0.68" stroke-linejoin="round" />
<polygon points="212.40,40.60 213.05,34.20 211.75,34.20" fill="#2a2a2a"/>
<polyline points="212.40,33.60 207.00,32.60" fill="none" stroke="#2a2a2a" stroke-width="0.68" stroke-linejoin="round" />
<line x1="212.80" y1="34.05" x2="215.70" y2="31.45" stroke="#2a2a2a" stroke-width="0.68" />
<line x1="212.00" y1="33.15" x2="214.90" y2="30.55" stroke="#2a2a2a" stroke-width="0.68" />
<polyline points="212.40,40.60 216.00,42.40" fill="none" stroke="#2a2a2a" stroke-width="0.68" stroke-linejoin="round" />
<polyline points="218.50,41.50 222.90,40.20" fill="none" stroke="#2a2a2a" stroke-width="0.68" stroke-linejoin="round" />
<line x1="223.50" y1="40.20" x2="223.50" y2="35.60" stroke="#2a2a2a" stroke-width="0.68" />
<line x1="222.30" y1="40.20" x2="222.30" y2="35.60" stroke="#2a2a2a" stroke-width="0.68" />
<polygon points="222.90,40.20 227.85,43.66 228.55,42.34" fill="#2a2a2a"/>
<polyline points="228.20,43.00 229.00,48.80 235.20,50.80 238.60,45.80 235.60,42.00" fill="none" stroke="#2a2a2a" stroke-width="0.68" stroke-linejoin="round" />
<polyline points="228.20,43.00 233.20,41.20" fill="none" stroke="#2a2a2a" stroke-width="0.68" stroke-linejoin="round" />
<polyline points="235.20,39.00 235.20,36.60" fill="none" stroke="#2a2a2a" stroke-width="0.68" stroke-linejoin="round" />
<line x1="233.70" y1="34.30" x2="230.60" y2="34.30" stroke="#2a2a2a" stroke-width="0.68" />
<line x1="233.70" y1="35.30" x2="230.60" y2="35.30" stroke="#2a2a2a" stroke-width="0.68" />
<line x1="235.70" y1="33.00" x2="235.70" y2="30.30" stroke="#2a2a2a" stroke-width="0.68" />
<line x1="234.70" y1="33.00" x2="234.70" y2="30.30" stroke="#2a2a2a" stroke-width="0.68" />
<polyline points="237.00,34.60 242.20,34.60" fill="none" stroke="#2a2a2a" stroke-width="0.68" stroke-linejoin="round" />
<polyline points="242.20,34.60 245.45,28.97 251.95,28.97 255.20,34.60 251.95,40.23 245.45,40.23 242.20,34.60" fill="none" stroke="#2a2a2a" stroke-width="0.68" stroke-linejoin="round" />
<line x1="243.62" y1="34.14" x2="245.76" y2="30.43" stroke="#2a2a2a" stroke-width="0.68" />
<line x1="251.64" y1="30.43" x2="253.78" y2="34.14" stroke="#2a2a2a" stroke-width="0.68" />
<line x1="250.84" y1="39.23" x2="246.56" y2="39.23" stroke="#2a2a2a" stroke-width="0.68" />
<polyline points="251.95,28.97 254.20,26.30" fill="none" stroke="#2a2a2a" stroke-width="0.68" stroke-linejoin="round" />
<polyline points="251.95,40.23 254.40,43.20" fill="none" stroke="#2a2a2a" stroke-width="0.68" stroke-linejoin="round" />
<polyline points="36.30,108.90 41.00,112.00 41.00,118.20 36.30,121.30 31.20,118.20 31.20,112.00 36.30,108.90" fill="none" stroke="#2a2a2a" stroke-width="0.68" stroke-linejoin="round" />
<line x1="40.03" y1="113.12" x2="40.03" y2="117.08" stroke="#2a2a2a" stroke-width="0.68" />
<line x1="35.87" y1="119.89" x2="32.59" y2="117.85" stroke="#2a2a2a" stroke-width="0.68" />
<line x1="32.59" y1="112.35" x2="35.87" y2="110.31" stroke="#2a2a2a" stroke-width="0.68" />
<polyline points="36.30,108.90 36.30,105.40" fill="none" stroke="#2a2a2a" stroke-width="0.68" stroke-linejoin="round" />
<polyline points="41.00,118.20 44.60,120.80" fill="none" stroke="#2a2a2a" stroke-width="0.68" stroke-linejoin="round" />
<polyline points="41.00,112.00 47.50,109.20" fill="none" stroke="#2a2a2a" stroke-width="0.68" stroke-linejoin="round" />
<line x1="48.10" y1="109.20" x2="48.10" y2="105.00" stroke="#2a2a2a" stroke-width="0.68" />
<line x1="46.90" y1="109.20" x2="46.90" y2="105.00" stroke="#2a2a2a" stroke-width="0.68" />
<polyline points="47.50,109.20 51.80,111.90" fill="none" stroke="#2a2a2a" stroke-width="0.68" stroke-linejoin="round" />
<polyline points="54.30,111.60 58.60,109.20" fill="none" stroke="#2a2a2a" stroke-width="0.68" stroke-linejoin="round" />
<polygon points="58.60,109.20 59.35,102.60 57.85,102.60" fill="#2a2a2a"/>
<polyline points="58.60,102.70 63.90,99.40" fill="none" stroke="#2a2a2a" stroke-width="0.68" stroke-linejoin="round" />
<polyline points="58.60,109.20 63.60,112.30 68.00,109.70" fill="none" stroke="#2a2a2a" stroke-width="0.68" stroke-linejoin="round" />
<line x1="63.00" y1="112.30" x2="63.00" y2="117.20" stroke="#2a2a2a" stroke-width="0.68" />
<line x1="64.20" y1="112.30" x2="64.20" y2="117.20" stroke="#2a2a2a" stroke-width="0.68" />
<polyline points="31.20,118.20 25.50,121.30 21.50,119.70" fill="none" stroke="#2a2a2a" stroke-width="0.68" stroke-linejoin="round" />
<line x1="24.90" y1="121.30" x2="24.90" y2="126.60" stroke="#2a2a2a" stroke-width="0.68" />
<line x1="26.10" y1="121.30" x2="26.10" y2="126.60" stroke="#2a2a2a" stroke-width="0.68" />
<polyline points="69.30,90.10 74.70,93.20 74.70,99.40 69.30,102.50 63.90,99.40 63.90,93.20 69.30,90.10" fill="none" stroke="#2a2a2a" stroke-width="0.68" stroke-linejoin="round" />
<line x1="73.70" y1="94.28" x2="73.70" y2="98.32" stroke="#2a2a2a" stroke-width="0.68" />
<line x1="68.86" y1="101.10" x2="65.34" y2="99.08" stroke="#2a2a2a" stroke-width="0.68" />
<line x1="65.34" y1="93.52" x2="68.86" y2="91.50" stroke="#2a2a2a" stroke-width="0.68" />
<polyline points="85.90,80.60 90.90,83.70 90.90,89.50 85.90,92.60 80.10,89.90 80.10,83.70 85.90,80.60" fill="none" stroke="#2a2a2a" stroke-width="0.68" stroke-linejoin="round" />
<line x1="86.25" y1="82.00" x2="89.49" y2="84.01" stroke="#2a2a2a" stroke-width="0.68" />
<line x1="89.48" y1="89.20" x2="86.25" y2="91.20" stroke="#2a2a2a" stroke-width="0.68" />
<line x1="81.09" y1="88.81" x2="81.11" y2="84.75" stroke="#2a2a2a" stroke-width="0.68" />
<polyline points="80.10,89.90 74.70,93.20" fill="none" stroke="#2a2a2a" stroke-width="0.68" stroke-linejoin="round" />
<polyline points="80.10,83.70 77.10,82.20" fill="none" stroke="#2a2a2a" stroke-width="0.68" stroke-linejoin="round" />
<polyline points="75.40,79.20 75.40,74.00" fill="none" stroke="#2a2a2a" stroke-width="0.68" stroke-linejoin="round" />
<polyline points="85.90,92.60 85.90,97.40" fill="none" stroke="#2a2a2a" stroke-width="0.68" stroke-linejoin="round" />
<polyline points="87.80,100.50 92.50,103.40" fill="none" stroke="#2a2a2a" stroke-width="0.68" stroke-linejoin="round" />
<polyline points="155.70,91.40 161.16,94.55 161.16,100.85 155.70,104.00 150.24,100.85 150.24,94.55 155.70,91.40" fill="none" stroke="#2a2a2a" stroke-width="0.68" stroke-linejoin="round" />
<line x1="160.16" y1="95.64" x2="160.16" y2="99.76" stroke="#2a2a2a" stroke-width="0.68" />
<line x1="155.25" y1="102.59" x2="151.69" y2="100.53" stroke="#2a2a2a" stroke-width="0.68" />
<line x1="151.69" y1="94.87" x2="155.25" y2="92.81" stroke="#2a2a2a" stroke-width="0.68" />
<polyline points="155.70,91.40 154.40,88.60" fill="none" stroke="#2a2a2a" stroke-width="0.68" stroke-linejoin="round" />
<polyline points="150.24,100.85 148.60,104.30" fill="none" stroke="#2a2a2a" stroke-width="0.68" stroke-linejoin="round" />
<polyline points="161.16,100.85 166.80,102.60" fill="none" stroke="#2a2a2a" stroke-width="0.68" stroke-linejoin="round" />
<line x1="169.30" y1="101.40" x2="169.30" y2="98.30" stroke="#2a2a2a" stroke-width="0.68" />
<line x1="168.30" y1="101.40" x2="168.30" y2="98.30" stroke="#2a2a2a" stroke-width="0.68" />
<line x1="170.40" y1="103.70" x2="173.50" y2="103.70" stroke="#2a2a2a" stroke-width="0.68" />
<line x1="170.40" y1="102.70" x2="173.50" y2="102.70" stroke="#2a2a2a" stroke-width="0.68" />
<polyline points="168.90,104.90 169.40,107.30" fill="none" stroke="#2a2a2a" stroke-width="0.68" stroke-linejoin="round" />
<polyline points="168.30,110.20 166.30,112.00 167.30,117.70 173.50,118.20 175.60,111.30 171.00,109.40" fill="none" stroke="#2a2a2a" stroke-width="0.68" stroke-linejoin="round" />
<polygon points="175.60,111.30 181.40,115.59 182.20,114.21" fill="#2a2a2a"/>
<polyline points="175.60,111.30 181.80,108.20" fill="none" stroke="#2a2a2a" stroke-width="0.68" stroke-linejoin="round" />
<line x1="182.40" y1="108.20" x2="182.40" y2="104.20" stroke="#2a2a2a" stroke-width="0.68" />
<line x1="181.20" y1="108.20" x2="181.20" y2="104.20" stroke="#2a2a2a" stroke-width="0.68" />
<polyline points="181.80,108.20 186.00,110.80" fill="none" stroke="#2a2a2a" stroke-width="0.68" stroke-linejoin="round" />
<polyline points="188.70,110.60 192.70,108.20" fill="none" stroke="#2a2a2a" stroke-width="0.68" stroke-linejoin="round" />
<polygon points="192.70,108.20 193.45,101.30 191.95,101.30" fill="#2a2a2a"/>
<polyline points="192.70,101.40 197.80,98.30" fill="none" stroke="#2a2a2a" stroke-width="0.68" stroke-linejoin="round" />
<polyline points="192.70,108.20 197.80,111.30 202.30,108.80" fill="none" stroke="#2a2a2a" stroke-width="0.68" stroke-linejoin="round" />
<line x1="197.20" y1="111.30" x2="197.20" y2="116.40" stroke="#2a2a2a" stroke-width="0.68" />
<line x1="198.40" y1="111.30" x2="198.40" y2="116.40" stroke="#2a2a2a" stroke-width="0.68" />
<polyline points="203.50,89.00 208.70,92.10 208.70,98.30 203.50,101.40 197.80,98.30 197.80,92.10 203.50,89.00" fill="none" stroke="#2a2a2a" stroke-width="0.68" stroke-linejoin="round" />
<line x1="207.70" y1="93.18" x2="207.70" y2="97.22" stroke="#2a2a2a" stroke-width="0.68" />
<line x1="203.00" y1="100.00" x2="199.27" y2="97.99" stroke="#2a2a2a" stroke-width="0.68" />
<line x1="199.27" y1="92.41" x2="203.00" y2="90.40" stroke="#2a2a2a" stroke-width="0.68" />
<polyline points="220.20,78.90 225.30,82.00 225.30,88.70 220.20,92.30 214.50,89.20 214.50,82.50 220.20,78.90" fill="none" stroke="#2a2a2a" stroke-width="0.68" stroke-linejoin="round" />
<line x1="220.58" y1="80.31" x2="223.93" y2="82.39" stroke="#2a2a2a" stroke-width="0.68" />
<line x1="223.89" y1="88.42" x2="220.58" y2="90.85" stroke="#2a2a2a" stroke-width="0.68" />
<line x1="215.47" y1="88.02" x2="215.50" y2="83.62" stroke="#2a2a2a" stroke-width="0.68" />
<polyline points="214.50,89.20 208.70,92.10" fill="none" stroke="#2a2a2a" stroke-width="0.68" stroke-linejoin="round" />
<polyline points="214.50,82.50 210.90,80.90" fill="none" stroke="#2a2a2a" stroke-width="0.68" stroke-linejoin="round" />
<polyline points="208.80,77.90 208.80,72.70" fill="none" stroke="#2a2a2a" stroke-width="0.68" stroke-linejoin="round" />
<polyline points="220.20,92.30 220.20,97.00" fill="none" stroke="#2a2a2a" stroke-width="0.68" stroke-linejoin="round" />
<polyline points="222.20,100.00 226.40,101.60" fill="none" stroke="#2a2a2a" stroke-width="0.68" stroke-linejoin="round" />
<polyline points="17.50,156.50 23.70,159.60 23.70,165.30 18.50,168.40 12.90,165.30 12.90,159.10 17.50,156.50" fill="none" stroke="#2a2a2a" stroke-width="0.68" stroke-linejoin="round" />
<line x1="22.67" y1="160.58" x2="22.68" y2="164.29" stroke="#2a2a2a" stroke-width="0.68" />
<line x1="17.99" y1="167.00" x2="14.36" y2="164.99" stroke="#2a2a2a" stroke-width="0.68" />
<line x1="14.25" y1="159.50" x2="17.26" y2="157.85" stroke="#2a2a2a" stroke-width="0.68" />
<polyline points="17.50,156.50 16.20,152.30" fill="none" stroke="#2a2a2a" stroke-width="0.68" stroke-linejoin="round" />
<polyline points="12.90,165.30 10.40,168.60" fill="none" stroke="#2a2a2a" stroke-width="0.68" stroke-linejoin="round" />
<polyline points="23.70,165.30 28.80,166.40" fill="none" stroke="#2a2a2a" stroke-width="0.68" stroke-linejoin="round" />
<line x1="31.69" y1="165.12" x2="32.29" y2="162.72" stroke="#2a2a2a" stroke-width="0.68" />
<line x1="30.71" y1="164.88" x2="31.31" y2="162.48" stroke="#2a2a2a" stroke-width="0.68" />
<line x1="32.30" y1="167.40" x2="35.60" y2="167.40" stroke="#2a2a2a" stroke-width="0.68" />
<line x1="32.30" y1="166.40" x2="35.60" y2="166.40" stroke="#2a2a2a" stroke-width="0.68" />
<polyline points="30.80,168.70 31.80,171.20" fill="none" stroke="#2a2a2a" stroke-width="0.68" stroke-linejoin="round" />
<polyline points="31.20,173.90 28.10,175.80 29.10,182.00 35.80,182.50 37.90,175.30 34.30,173.30" fill="none" stroke="#2a2a2a" stroke-width="0.68" stroke-linejoin="round" />
<polyline points="37.90,175.30 43.10,172.20" fill="none" stroke="#2a2a2a" stroke-width="0.68" stroke-linejoin="round" />
<line x1="43.70" y1="172.20" x2="43.70" y2="167.40" stroke="#2a2a2a" stroke-width="0.68" />
<line x1="42.50" y1="172.20" x2="42.50" y2="167.40" stroke="#2a2a2a" stroke-width="0.68" />
<polyline points="43.10,172.20 47.60,174.60" fill="none" stroke="#2a2a2a" stroke-width="0.68" stroke-linejoin="round" />
<polyline points="50.40,174.30 54.40,171.70" fill="none" stroke="#2a2a2a" stroke-width="0.68" stroke-linejoin="round" />
<polygon points="54.40,171.70 55.15,165.40 53.65,165.40" fill="#2a2a2a"/>
<polyline points="54.40,165.50 59.60,162.40" fill="none" stroke="#2a2a2a" stroke-width="0.68" stroke-linejoin="round" />
<polyline points="54.40,171.70 59.60,175.30 64.00,172.40" fill="none" stroke="#2a2a2a" stroke-width="0.68" stroke-linejoin="round" />
<line x1="59.00" y1="175.30" x2="59.00" y2="180.00" stroke="#2a2a2a" stroke-width="0.68" />
<line x1="60.20" y1="175.30" x2="60.20" y2="180.00" stroke="#2a2a2a" stroke-width="0.68" />
<polyline points="64.80,153.10 70.50,156.20 70.50,162.40 64.80,165.50 59.60,162.40 59.60,156.20 64.80,153.10" fill="none" stroke="#2a2a2a" stroke-width="0.68" stroke-linejoin="round" />
<line x1="69.50" y1="157.27" x2="69.50" y2="161.33" stroke="#2a2a2a" stroke-width="0.68" />
<line x1="64.41" y1="164.10" x2="61.02" y2="162.08" stroke="#2a2a2a" stroke-width="0.68" />
<line x1="61.02" y1="156.52" x2="64.41" y2="154.50" stroke="#2a2a2a" stroke-width="0.68" />
<polyline points="81.40,143.10 86.80,145.80 86.80,152.20 81.40,155.30 76.00,152.60 76.00,145.40 81.40,143.10" fill="none" stroke="#2a2a2a" stroke-width="0.68" stroke-linejoin="round" />
<line x1="81.84" y1="144.46" x2="85.37" y2="146.18" stroke="#2a2a2a" stroke-width="0.68" />
<line x1="85.36" y1="151.88" x2="81.84" y2="153.90" stroke="#2a2a2a" stroke-width="0.68" />
<line x1="76.96" y1="151.38" x2="76.95" y2="146.64" stroke="#2a2a2a" stroke-width="0.68" />
<polyline points="76.00,152.60 70.50,156.20" fill="none" stroke="#2a2a2a" stroke-width="0.68" stroke-linejoin="round" />
<polyline points="76.00,145.40 72.80,144.00" fill="none" stroke="#2a2a2a" stroke-width="0.68" stroke-linejoin="round" />
<polyline points="69.30,144.00 65.60,145.80" fill="none" stroke="#2a2a2a" stroke-width="0.68" stroke-linejoin="round" />
<polyline points="81.40,155.30 81.40,160.30" fill="none" stroke="#2a2a2a" stroke-width="0.68" stroke-linejoin="round" />
<polyline points="83.30,163.50 87.70,165.30" fill="none" stroke="#2a2a2a" stroke-width="0.68" stroke-linejoin="round" />
<polyline points="86.80,145.80 93.60,143.10 96.60,145.20" fill="none" stroke="#2a2a2a" stroke-width="0.68" stroke-linejoin="round" />
<polyline points="133.64,143.29 138.24,147.15 137.20,153.06 131.56,155.11 126.96,151.25 128.00,145.34 133.64,143.29" fill="none" stroke="#2a2a2a" stroke-width="0.68" stroke-linejoin="round" />
<line x1="137.07" y1="148.02" x2="136.40" y2="151.84" stroke="#2a2a2a" stroke-width="0.68" />
<line x1="131.39" y1="153.66" x2="128.41" y2="151.17" stroke="#2a2a2a" stroke-width="0.68" />
<line x1="129.34" y1="145.92" x2="132.99" y2="144.59" stroke="#2a2a2a" stroke-width="0.68" />
<polyline points="133.64,143.29 135.70,140.20" fill="none" stroke="#2a2a2a" stroke-width="0.68" stroke-linejoin="round" />
<polyline points="126.96,151.25 122.60,153.20" fill="none" stroke="#2a2a2a" stroke-width="0.68" stroke-linejoin="round" />
<polyline points="137.20,153.06 138.60,156.30" fill="none" stroke="#2a2a2a" stroke-width="0.68" stroke-linejoin="round" />
<line x1="141.73" y1="156.57" x2="143.53" y2="154.97" stroke="#2a2a2a" stroke-width="0.68" />
<line x1="141.07" y1="155.83" x2="142.87" y2="154.23" stroke="#2a2a2a" stroke-width="0.68" />
<line x1="141.13" y1="159.02" x2="143.93" y2="160.82" stroke="#2a2a2a" stroke-width="0.68" />
<line x1="141.67" y1="158.18" x2="144.47" y2="159.98" stroke="#2a2a2a" stroke-width="0.68" />
<polyline points="140.00,158.90 139.80,162.80" fill="none" stroke="#2a2a2a" stroke-width="0.68" stroke-linejoin="round" />
<polyline points="138.20,165.40 133.70,166.00 134.20,171.70 140.00,173.70 143.60,169.60 141.00,166.00" fill="none" stroke="#2a2a2a" stroke-width="0.68" stroke-linejoin="round" />
<polyline points="143.60,169.60 150.30,169.10" fill="none" stroke="#2a2a2a" stroke-width="0.68" stroke-linejoin="round" />
<line x1="150.76" y1="169.31" x2="152.26" y2="166.01" stroke="#2a2a2a" stroke-width="0.68" />
<line x1="149.84" y1="168.89" x2="151.34" y2="165.59" stroke="#2a2a2a" stroke-width="0.68" />
<polyline points="150.30,169.10 152.60,172.20" fill="none" stroke="#2a2a2a" stroke-width="0.68" stroke-linejoin="round" />
<polyline points="155.00,172.50 160.50,170.80" fill="none" stroke="#2a2a2a" stroke-width="0.68" stroke-linejoin="round" />
<polygon points="160.50,170.80 161.75,165.47 160.25,165.33" fill="#2a2a2a"/>
<polyline points="161.00,165.50 166.40,166.00" fill="none" stroke="#2a2a2a" stroke-width="0.68" stroke-linejoin="round" />
<polyline points="160.50,170.80 164.30,176.40 168.50,175.00" fill="none" stroke="#2a2a2a" stroke-width="0.68" stroke-linejoin="round" />
<line x1="163.71" y1="176.29" x2="162.91" y2="180.49" stroke="#2a2a2a" stroke-width="0.68" />
<line x1="164.89" y1="176.51" x2="164.09" y2="180.71" stroke="#2a2a2a" stroke-width="0.68" />
<polyline points="173.10,156.70 178.80,159.30 178.80,166.50 173.10,169.10 166.40,166.00 166.90,159.30 173.10,156.70" fill="none" stroke="#2a2a2a" stroke-width="0.68" stroke-linejoin="round" />
<line x1="177.81" y1="160.49" x2="177.82" y2="165.29" stroke="#2a2a2a" stroke-width="0.68" />
<line x1="172.49" y1="167.70" x2="167.99" y2="165.74" stroke="#2a2a2a" stroke-width="0.68" />
<line x1="168.41" y1="159.68" x2="172.54" y2="158.05" stroke="#2a2a2a" stroke-width="0.68" />
<polyline points="192.70,152.00 196.80,155.60 195.80,161.80 190.10,163.90 184.90,160.30 186.00,153.60 192.70,152.00" fill="none" stroke="#2a2a2a" stroke-width="0.68" stroke-linejoin="round" />
<line x1="192.72" y1="153.40" x2="195.40" y2="155.73" stroke="#2a2a2a" stroke-width="0.68" />
<line x1="194.45" y1="161.24" x2="190.74" y2="162.59" stroke="#2a2a2a" stroke-width="0.68" />
<line x1="186.06" y1="159.32" x2="186.79" y2="154.90" stroke="#2a2a2a" stroke-width="0.68" />
<polyline points="184.90,160.30 178.80,159.30" fill="none" stroke="#2a2a2a" stroke-width="0.68" stroke-linejoin="round" />
<polyline points="186.00,153.60 182.90,151.20" fill="none" stroke="#2a2a2a" stroke-width="0.68" stroke-linejoin="round" />
<polyline points="182.30,148.30 183.80,145.40" fill="none" stroke="#2a2a2a" stroke-width="0.68" stroke-linejoin="round" />
<polyline points="190.10,163.90 188.40,168.00" fill="none" stroke="#2a2a2a" stroke-width="0.68" stroke-linejoin="round" />
<polyline points="189.00,171.30 190.60,172.80" fill="none" stroke="#2a2a2a" stroke-width="0.68" stroke-linejoin="round" />
<polyline points="196.80,155.60 203.00,154.60 206.60,156.90" fill="none" stroke="#2a2a2a" stroke-width="0.68" stroke-linejoin="round" />
<polyline points="210.00,157.40 214.00,155.00 218.20,157.30 220.30,156.20" fill="none" stroke="#2a2a2a" stroke-width="0.68" stroke-linejoin="round" />
<polyline points="220.30,156.20 222.80,155.20" fill="none" stroke="#2a2a2a" stroke-width="0.68" stroke-linejoin="round" />
<polyline points="226.40,155.20 230.60,157.30 234.60,155.00 236.20,156.00" fill="none" stroke="#2a2a2a" stroke-width="0.68" stroke-linejoin="round" />
<polyline points="236.20,156.00 238.70,157.50" fill="none" stroke="#2a2a2a" stroke-width="0.68" stroke-linejoin="round" />
<polyline points="242.10,157.50 246.80,155.00 251.50,157.30 254.60,155.60" fill="none" stroke="#2a2a2a" stroke-width="0.68" stroke-linejoin="round" />
<polyline points="258.00,155.40 259.50,156.20" fill="none" stroke="#2a2a2a" stroke-width="0.68" stroke-linejoin="round" /></g><text x="318.50" y="42.80" font-size="6.4" text-anchor="start" fill="#161616" font-weight="normal" stroke="#161616" stroke-width="0.06" >3 mg/kg CWHM-823 (VLA-4)</text>
<text x="318.50" y="53.30" font-size="6.4" text-anchor="start" fill="#161616" font-weight="normal" stroke="#161616" stroke-width="0.06" >5 mg/kg plerixafor (CXCR4)</text>
<text x="318.50" y="63.80" font-size="6.4" text-anchor="start" fill="#161616" font-weight="normal" stroke="#161616" stroke-width="0.06" >2.5 mg/kg tGro-β (CXCR2)</text>
<text x="421.90" y="31.80" font-size="6.4" text-anchor="start" fill="#161616" font-weight="normal" stroke="#161616" stroke-width="0.06" >CWHM-823 + plerixafor</text>
<text x="421.90" y="42.50" font-size="6.4" text-anchor="start" fill="#161616" font-weight="normal" stroke="#161616" stroke-width="0.06" >CWHM-823 + tGro-β</text>
<text x="421.90" y="53.20" font-size="6.4" text-anchor="start" fill="#161616" font-weight="normal" stroke="#161616" stroke-width="0.06" >Plerixafor + tGro-β</text>
<text x="421.90" y="63.60" font-size="6.4" text-anchor="start" fill="#161616" font-weight="normal" stroke="#161616" stroke-width="0.06" >CWHM-823 + plerixafor + tGro-β</text>
<text x="328.20" y="174.60" font-size="6.2" text-anchor="end" fill="#161616" font-weight="normal" >0</text>
<text x="328.20" y="159.75" font-size="6.2" text-anchor="end" fill="#161616" font-weight="normal" >3</text>
<text x="328.20" y="144.90" font-size="6.2" text-anchor="end" fill="#161616" font-weight="normal" >6</text>
<text x="328.20" y="130.05" font-size="6.2" text-anchor="end" fill="#161616" font-weight="normal" >9</text>
<text x="328.20" y="115.20" font-size="6.2" text-anchor="end" fill="#161616" font-weight="normal" >12</text>
<text x="328.20" y="100.35" font-size="6.2" text-anchor="end" fill="#161616" font-weight="normal" >15</text>
<text x="328.20" y="85.50" font-size="6.2" text-anchor="end" fill="#161616" font-weight="normal" >18</text>
<text x="362.10" y="184.20" font-size="6.2" text-anchor="middle" fill="#161616" font-weight="normal" >0.50</text>
<text x="419.70" y="184.20" font-size="6.2" text-anchor="middle" fill="#161616" font-weight="normal" >2</text>
<text x="477.30" y="184.20" font-size="6.2" text-anchor="middle" fill="#161616" font-weight="normal" >4</text>
<text x="419.40" y="195.20" font-size="7.4" text-anchor="middle" fill="#1a1a1a" font-weight="bold" textLength="32.7" lengthAdjust="spacingAndGlyphs" >Time (hours)</text>
<text transform="translate(315.0,126.9) rotate(-90)" font-size="6.4" font-weight="bold" text-anchor="middle" fill="#1a1a1a" textLength="67.6" lengthAdjust="spacingAndGlyphs">No. CFUs/mL blood (×10<tspan font-size="4" dy="-2">3</tspan><tspan dy="2">)</tspan></text>
<text x="368.35" y="78.50" font-size="5.6" text-anchor="middle" fill="#222" font-weight="bold" >*</text>
<text x="370.55" y="78.50" font-size="5.6" text-anchor="middle" fill="#222" font-weight="bold" >*</text>
<text x="372.75" y="78.50" font-size="5.6" text-anchor="middle" fill="#222" font-weight="bold" >*</text>
<text x="374.95" y="78.50" font-size="5.6" text-anchor="middle" fill="#222" font-weight="bold" >*</text>
<text x="427.30" y="78.70" font-size="5.6" text-anchor="middle" fill="#222" font-weight="bold" >*</text>
<text x="429.50" y="78.70" font-size="5.6" text-anchor="middle" fill="#222" font-weight="bold" >*</text>
<text x="431.70" y="78.70" font-size="5.6" text-anchor="middle" fill="#222" font-weight="bold" >*</text>
<text x="483.85" y="78.70" font-size="5.6" text-anchor="middle" fill="#222" font-weight="bold" >*</text>
<text x="486.05" y="78.70" font-size="5.6" text-anchor="middle" fill="#222" font-weight="bold" >*</text>
<text x="488.25" y="78.70" font-size="5.6" text-anchor="middle" fill="#222" font-weight="bold" >*</text>
<text x="490.45" y="78.70" font-size="5.6" text-anchor="middle" fill="#222" font-weight="bold" >*</text>
<text x="48.80" y="234.80" font-size="6.55" text-anchor="start" fill="#161616" font-weight="normal" stroke="#161616" stroke-width="0.06" >BIO5192 (IC<tspan font-size="4" dy="1.5">50</tspan><tspan dy="-1.5"> = 0.62 nM)</tspan></text>
<text x="48.80" y="245.00" font-size="6.55" text-anchor="start" fill="#161616" font-weight="normal" stroke="#161616" stroke-width="0.06" >CWHM-823 (IC<tspan font-size="4" dy="1.5">50</tspan><tspan dy="-1.5"> = 4.6 nM)</tspan></text>
<text x="48.80" y="255.30" font-size="6.55" text-anchor="start" fill="#161616" font-weight="normal" stroke="#161616" stroke-width="0.06" >CWHM-824 (IC<tspan font-size="4" dy="1.5">50</tspan><tspan dy="-1.5"> = 3.56 nM)</tspan></text>
<text x="158.00" y="234.80" font-size="6.55" text-anchor="start" fill="#161616" font-weight="normal" stroke="#161616" stroke-width="0.06" >SLU-2615 (IC<tspan font-size="4" dy="1.5">50</tspan><tspan dy="-1.5"> = 0.45 nM)</tspan></text>
<text x="158.00" y="245.00" font-size="6.55" text-anchor="start" fill="#161616" font-weight="normal" stroke="#161616" stroke-width="0.06" >SLU-2609 (IC<tspan font-size="4" dy="1.5">50</tspan><tspan dy="-1.5"> = 1.59 nM)</tspan></text>
<text x="64.30" y="357.00" font-size="6.2" text-anchor="end" fill="#161616" font-weight="normal" >0</text>
<text x="64.30" y="337.25" font-size="6.2" text-anchor="end" fill="#161616" font-weight="normal" >25</text>
<text x="64.30" y="317.50" font-size="6.2" text-anchor="end" fill="#161616" font-weight="normal" >50</text>
<text x="64.30" y="297.75" font-size="6.2" text-anchor="end" fill="#161616" font-weight="normal" >75</text>
<text x="64.30" y="278.00" font-size="6.2" text-anchor="end" fill="#161616" font-weight="normal" >100</text>
<text x="69.00" y="366.2" font-size="6" text-anchor="middle" fill="#161616">10<tspan font-size="3.8" dy="-2.3">−3</tspan></text>
<text x="86.72" y="366.2" font-size="6" text-anchor="middle" fill="#161616">10<tspan font-size="3.8" dy="-2.3">−2</tspan></text>
<text x="104.44" y="366.2" font-size="6" text-anchor="middle" fill="#161616">10<tspan font-size="3.8" dy="-2.3">−1</tspan></text>
<text x="122.16" y="366.2" font-size="6" text-anchor="middle" fill="#161616">10<tspan font-size="3.8" dy="-2.3">0</tspan></text>
<text x="139.88" y="366.2" font-size="6" text-anchor="middle" fill="#161616">10<tspan font-size="3.8" dy="-2.3">1</tspan></text>
<text x="157.60" y="366.2" font-size="6" text-anchor="middle" fill="#161616">10<tspan font-size="3.8" dy="-2.3">2</tspan></text>
<text x="175.32" y="366.2" font-size="6" text-anchor="middle" fill="#161616">10<tspan font-size="3.8" dy="-2.3">3</tspan></text>
<text x="193.04" y="366.2" font-size="6" text-anchor="middle" fill="#161616">10<tspan font-size="3.8" dy="-2.3">4</tspan></text>
<text x="133.20" y="377.00" font-size="7.4" text-anchor="middle" fill="#1a1a1a" font-weight="bold" textLength="72.5" lengthAdjust="spacingAndGlyphs" >Inhibitor concentration (nM)</text>
<text transform="translate(38.0,314) rotate(-90)" font-size="6.4" font-weight="bold" text-anchor="middle" fill="#1a1a1a" textLength="48.6" lengthAdjust="spacingAndGlyphs">% VCAM1 binding</text>
<text transform="translate(47.0,310.2) rotate(-90)" font-size="6.4" font-weight="bold" text-anchor="middle" fill="#1a1a1a" textLength="66" lengthAdjust="spacingAndGlyphs">(relative to untreated cells)</text>
<text x="328.50" y="356.40" font-size="6.2" text-anchor="end" fill="#161616" font-weight="normal" >0</text>
<text x="328.50" y="339.26" font-size="6.2" text-anchor="end" fill="#161616" font-weight="normal" >2</text>
<text x="328.50" y="322.12" font-size="6.2" text-anchor="end" fill="#161616" font-weight="normal" >4</text>
<text x="328.50" y="304.98" font-size="6.2" text-anchor="end" fill="#161616" font-weight="normal" >6</text>
<text x="328.50" y="287.84" font-size="6.2" text-anchor="end" fill="#161616" font-weight="normal" >8</text>
<text x="328.50" y="270.70" font-size="6.2" text-anchor="end" fill="#161616" font-weight="normal" >10</text>
<text x="354.90" y="365.50" font-size="6.2" text-anchor="middle" fill="#161616" font-weight="normal" >0.5</text>
<text x="399.10" y="365.50" font-size="6.2" text-anchor="middle" fill="#161616" font-weight="normal" >2</text>
<text x="443.30" y="365.50" font-size="6.2" text-anchor="middle" fill="#161616" font-weight="normal" >4</text>
<text x="399.20" y="376.90" font-size="7.4" text-anchor="middle" fill="#1a1a1a" font-weight="bold" textLength="34" lengthAdjust="spacingAndGlyphs" >Time (hours)</text>
<text transform="translate(314.8,309.9) rotate(-90)" font-size="6.4" font-weight="bold" text-anchor="middle" fill="#1a1a1a" textLength="67.6" lengthAdjust="spacingAndGlyphs">No. CFUs/mL blood (×10<tspan font-size="4" dy="-2">3</tspan><tspan dy="2">)</tspan></text>
<text x="351.85" y="248.70" font-size="5.6" text-anchor="middle" fill="#222" font-weight="bold" >*</text>
<text x="354.05" y="248.70" font-size="5.6" text-anchor="middle" fill="#222" font-weight="bold" >*</text>
<text x="356.25" y="248.70" font-size="5.6" text-anchor="middle" fill="#222" font-weight="bold" >*</text>
<text x="358.45" y="248.70" font-size="5.6" text-anchor="middle" fill="#222" font-weight="bold" >*</text>
<text x="347.20" y="261.80" font-size="5.6" text-anchor="middle" fill="#222" font-weight="bold" >*</text>
<text x="349.40" y="261.80" font-size="5.6" text-anchor="middle" fill="#222" font-weight="bold" >*</text>
<text x="351.60" y="261.80" font-size="5.6" text-anchor="middle" fill="#222" font-weight="bold" >*</text>
<text x="353.80" y="261.80" font-size="5.6" text-anchor="middle" fill="#222" font-weight="bold" >*</text>
<text x="342.50" y="275.00" font-size="5.6" text-anchor="middle" fill="#222" font-weight="bold" >*</text>
<text x="344.70" y="275.00" font-size="5.6" text-anchor="middle" fill="#222" font-weight="bold" >*</text>
<text x="346.90" y="275.00" font-size="5.6" text-anchor="middle" fill="#222" font-weight="bold" >*</text>
<text x="349.10" y="275.00" font-size="5.6" text-anchor="middle" fill="#222" font-weight="bold" >*</text>
<text x="396.05" y="248.70" font-size="5.6" text-anchor="middle" fill="#222" font-weight="bold" >*</text>
<text x="398.25" y="248.70" font-size="5.6" text-anchor="middle" fill="#222" font-weight="bold" >*</text>
<text x="400.45" y="248.70" font-size="5.6" text-anchor="middle" fill="#222" font-weight="bold" >*</text>
<text x="402.65" y="248.70" font-size="5.6" text-anchor="middle" fill="#222" font-weight="bold" >*</text>
<text x="391.40" y="261.80" font-size="5.6" text-anchor="middle" fill="#222" font-weight="bold" >*</text>
<text x="393.60" y="261.80" font-size="5.6" text-anchor="middle" fill="#222" font-weight="bold" >*</text>
<text x="395.80" y="261.80" font-size="5.6" text-anchor="middle" fill="#222" font-weight="bold" >*</text>
<text x="398.00" y="261.80" font-size="5.6" text-anchor="middle" fill="#222" font-weight="bold" >*</text>
<text x="386.70" y="275.00" font-size="5.6" text-anchor="middle" fill="#222" font-weight="bold" >*</text>
<text x="388.90" y="275.00" font-size="5.6" text-anchor="middle" fill="#222" font-weight="bold" >*</text>
<text x="391.10" y="275.00" font-size="5.6" text-anchor="middle" fill="#222" font-weight="bold" >*</text>
<text x="393.30" y="275.00" font-size="5.6" text-anchor="middle" fill="#222" font-weight="bold" >*</text>
<text x="440.25" y="248.70" font-size="5.6" text-anchor="middle" fill="#222" font-weight="bold" >*</text>
<text x="442.45" y="248.70" font-size="5.6" text-anchor="middle" fill="#222" font-weight="bold" >*</text>
<text x="444.65" y="248.70" font-size="5.6" text-anchor="middle" fill="#222" font-weight="bold" >*</text>
<text x="446.85" y="248.70" font-size="5.6" text-anchor="middle" fill="#222" font-weight="bold" >*</text>
<text x="438.90" y="261.80" font-size="5.6" text-anchor="middle" fill="#222" font-weight="bold" >*</text>
<text x="430.90" y="275.00" font-size="5.6" text-anchor="middle" fill="#222" font-weight="bold" >*</text>
<text x="433.10" y="275.00" font-size="5.6" text-anchor="middle" fill="#222" font-weight="bold" >*</text>
<text x="435.30" y="275.00" font-size="5.6" text-anchor="middle" fill="#222" font-weight="bold" >*</text>
<text x="437.50" y="275.00" font-size="5.6" text-anchor="middle" fill="#222" font-weight="bold" >*</text>
<text x="401.85" y="222.60" font-size="5.6" text-anchor="middle" fill="#222" font-weight="bold" >*</text>
<text x="404.05" y="222.60" font-size="5.6" text-anchor="middle" fill="#222" font-weight="bold" >*</text>
<text x="406.25" y="222.60" font-size="5.6" text-anchor="middle" fill="#222" font-weight="bold" >*</text>
<text x="397.20" y="235.60" font-size="5.6" text-anchor="middle" fill="#222" font-weight="bold" >*</text>
<text x="399.40" y="235.60" font-size="5.6" text-anchor="middle" fill="#222" font-weight="bold" >*</text>
<text x="401.60" y="235.60" font-size="5.6" text-anchor="middle" fill="#222" font-weight="bold" >*</text>
<text x="449.65" y="293.30" font-size="5.6" text-anchor="middle" fill="#222" font-weight="bold" >*</text>
<text x="451.85" y="293.30" font-size="5.6" text-anchor="middle" fill="#222" font-weight="bold" >*</text>
<text x="454.05" y="293.30" font-size="5.6" text-anchor="middle" fill="#222" font-weight="bold" >*</text>
<text x="456.25" y="293.30" font-size="5.6" text-anchor="middle" fill="#222" font-weight="bold" >*</text>
<text x="443.60" y="306.50" font-size="5.6" text-anchor="middle" fill="#222" font-weight="bold" >*</text>
<text x="482.80" y="295.80" font-size="6.45" text-anchor="start" fill="#161616" font-weight="normal" stroke="#161616" stroke-width="0.06" textLength="25.3" lengthAdjust="spacingAndGlyphs" >Untreated</text>
<text x="482.80" y="306.50" font-size="6.45" text-anchor="start" fill="#161616" font-weight="normal" stroke="#161616" stroke-width="0.06" >BIO5192</text>
<text x="482.80" y="317.40" font-size="6.45" text-anchor="start" fill="#161616" font-weight="normal" stroke="#161616" stroke-width="0.06" >SLU-2615</text>
<text x="482.80" y="328.40" font-size="6.45" text-anchor="start" fill="#161616" font-weight="normal" stroke="#161616" stroke-width="0.06" >SLU-2609</text>
<text x="29.20" y="42.44" font-size="4.4" text-anchor="middle" fill="#111" font-weight="normal" >NH</text>
<text x="39.20" y="42.44" font-size="4.4" text-anchor="middle" fill="#111" font-weight="normal" >N</text>
<text x="28.90" y="57.84" font-size="4.4" text-anchor="middle" fill="#111" font-weight="normal" >NH</text>
<text x="37.20" y="57.84" font-size="4.4" text-anchor="middle" fill="#111" font-weight="normal" >HN</text>
<text x="72.40" y="48.94" font-size="4.4" text-anchor="middle" fill="#111" font-weight="normal" >N</text>
<text x="73.10" y="34.44" font-size="4.4" text-anchor="middle" fill="#111" font-weight="normal" >NH</text>
<text x="81.90" y="34.44" font-size="4.4" text-anchor="middle" fill="#111" font-weight="normal" >HN</text>
<text x="81.90" y="48.94" font-size="4.4" text-anchor="middle" fill="#111" font-weight="normal" >HN</text>
<text x="51.10" y="68.90" font-size="4.9" text-anchor="start" fill="#111" font-weight="normal" textLength="17.9" lengthAdjust="spacingAndGlyphs" >Plerixafor</text>
<text x="136.30" y="54.14" font-size="4.4" text-anchor="middle" fill="#111" font-weight="normal" >N</text>
<text x="136.60" y="57.80" font-size="4.0" text-anchor="middle" fill="#111" font-weight="normal" >H</text>
<text x="141.40" y="45.04" font-size="4.4" text-anchor="middle" fill="#111" font-weight="normal" >O</text>
<text x="146.70" y="54.14" font-size="4.4" text-anchor="middle" fill="#111" font-weight="normal" >N</text>
<text x="146.90" y="57.80" font-size="4.0" text-anchor="middle" fill="#111" font-weight="normal" >H</text>
<text x="174.00" y="51.34" font-size="4.4" text-anchor="middle" fill="#111" font-weight="normal" >O</text>
<text x="179.60" y="42.24" font-size="4.4" text-anchor="middle" fill="#111" font-weight="normal" >N</text>
<text x="190.60" y="35.14" font-size="4.4" text-anchor="middle" fill="#111" font-weight="normal" >O</text>
<text x="195.90" y="44.54" font-size="4.4" text-anchor="middle" fill="#111" font-weight="normal" >N</text>
<text x="196.00" y="48.80" font-size="4.0" text-anchor="middle" fill="#111" font-weight="normal" >H</text>
<text x="204.40" y="34.14" font-size="4.4" text-anchor="middle" fill="#111" font-weight="normal" >HO</text>
<text x="216.70" y="30.94" font-size="4.4" text-anchor="middle" fill="#111" font-weight="normal" >O</text>
<text x="217.10" y="44.54" font-size="4.4" text-anchor="middle" fill="#111" font-weight="normal" >N</text>
<text x="217.20" y="49.00" font-size="4.0" text-anchor="middle" fill="#111" font-weight="normal" >H</text>
<text x="223.10" y="35.54" font-size="4.4" text-anchor="middle" fill="#111" font-weight="normal" >O</text>
<text x="234.60" y="42.24" font-size="4.4" text-anchor="middle" fill="#111" font-weight="normal" >N</text>
<text x="235.40" y="36.34" font-size="4.4" text-anchor="middle" fill="#111" font-weight="normal" >S</text>
<text x="229.00" y="36.34" font-size="4.4" text-anchor="middle" fill="#111" font-weight="normal" >O</text>
<text x="234.60" y="30.14" font-size="4.4" text-anchor="middle" fill="#111" font-weight="normal" >O</text>
<text x="256.00" y="25.94" font-size="4.4" text-anchor="middle" fill="#111" font-weight="normal" >Cl</text>
<text x="256.60" y="46.54" font-size="4.4" text-anchor="middle" fill="#111" font-weight="normal" >Cl</text>
<text x="180.20" y="67.70" font-size="5.0" text-anchor="start" fill="#111" font-weight="normal" textLength="17.0" lengthAdjust="spacingAndGlyphs" >BIO5192</text>
<text x="36.40" y="104.84" font-size="4.4" text-anchor="middle" fill="#111" font-weight="normal" >Cl</text>
<text x="47.00" y="124.14" font-size="4.4" text-anchor="middle" fill="#111" font-weight="normal" >Cl</text>
<text x="47.50" y="104.74" font-size="4.4" text-anchor="middle" fill="#111" font-weight="normal" >O</text>
<text x="53.00" y="114.24" font-size="4.4" text-anchor="middle" fill="#111" font-weight="normal" >N</text>
<text x="53.40" y="118.46" font-size="3.6" text-anchor="middle" fill="#111" font-weight="normal" >H</text>
<text x="63.20" y="108.39" font-size="3.4" text-anchor="middle" fill="#111" font-weight="normal" >(S)</text>
<text x="71.60" y="111.14" font-size="4.4" text-anchor="middle" fill="#111" font-weight="normal" >OH</text>
<text x="64.00" y="120.74" font-size="4.4" text-anchor="middle" fill="#111" font-weight="normal" >O</text>
<text x="18.30" y="120.94" font-size="4.4" text-anchor="middle" fill="#111" font-weight="normal" >HO</text>
<text x="25.60" y="130.14" font-size="4.4" text-anchor="middle" fill="#111" font-weight="normal" >O</text>
<text x="75.50" y="82.34" font-size="4.4" text-anchor="middle" fill="#111" font-weight="normal" >O</text>
<text x="86.30" y="100.74" font-size="4.4" text-anchor="middle" fill="#111" font-weight="normal" >O</text>
<text x="43.90" y="132.10" font-size="5.3" text-anchor="start" fill="#111" font-weight="normal" textLength="24.8" lengthAdjust="spacingAndGlyphs" >CWHM-823</text>
<text x="153.90" y="88.24" font-size="4.4" text-anchor="middle" fill="#111" font-weight="normal" >Cl</text>
<text x="146.70" y="108.84" font-size="4.4" text-anchor="middle" fill="#111" font-weight="normal" >Cl</text>
<text x="168.70" y="104.74" font-size="4.4" text-anchor="middle" fill="#111" font-weight="normal" >S</text>
<text x="168.90" y="98.04" font-size="4.4" text-anchor="middle" fill="#111" font-weight="normal" >O</text>
<text x="175.30" y="104.84" font-size="4.4" text-anchor="middle" fill="#111" font-weight="normal" >O</text>
<text x="169.70" y="110.44" font-size="4.4" text-anchor="middle" fill="#111" font-weight="normal" >N</text>
<text x="176.20" y="108.99" font-size="3.4" text-anchor="middle" fill="#111" font-weight="normal" >(S)</text>
<text x="181.20" y="103.84" font-size="4.4" text-anchor="middle" fill="#111" font-weight="normal" >O</text>
<text x="187.30" y="113.14" font-size="4.4" text-anchor="middle" fill="#111" font-weight="normal" >N</text>
<text x="187.50" y="117.36" font-size="3.6" text-anchor="middle" fill="#111" font-weight="normal" >H</text>
<text x="196.90" y="107.39" font-size="3.4" text-anchor="middle" fill="#111" font-weight="normal" >(S)</text>
<text x="205.60" y="110.24" font-size="4.4" text-anchor="middle" fill="#111" font-weight="normal" >OH</text>
<text x="198.50" y="120.04" font-size="4.4" text-anchor="middle" fill="#111" font-weight="normal" >O</text>
<text x="209.10" y="81.14" font-size="4.4" text-anchor="middle" fill="#111" font-weight="normal" >O</text>
<text x="220.40" y="100.54" font-size="4.4" text-anchor="middle" fill="#111" font-weight="normal" >O</text>
<text x="174.60" y="132.10" font-size="5.3" text-anchor="start" fill="#111" font-weight="normal" textLength="22.5" lengthAdjust="spacingAndGlyphs" >CWHM-824</text>
<text x="15.60" y="151.84" font-size="4.4" text-anchor="middle" fill="#111" font-weight="normal" >Cl</text>
<text x="9.00" y="172.54" font-size="4.4" text-anchor="middle" fill="#111" font-weight="normal" >Cl</text>
<text x="30.50" y="168.44" font-size="4.4" text-anchor="middle" fill="#111" font-weight="normal" >S</text>
<text x="32.30" y="162.34" font-size="4.4" text-anchor="middle" fill="#111" font-weight="normal" >O</text>
<text x="37.40" y="168.54" font-size="4.4" text-anchor="middle" fill="#111" font-weight="normal" >O</text>
<text x="32.70" y="174.34" font-size="4.4" text-anchor="middle" fill="#111" font-weight="normal" >N</text>
<text x="42.60" y="178.19" font-size="3.4" text-anchor="middle" fill="#111" font-weight="normal" >(S)</text>
<text x="43.60" y="167.04" font-size="4.4" text-anchor="middle" fill="#111" font-weight="normal" >O</text>
<text x="49.00" y="176.84" font-size="4.4" text-anchor="middle" fill="#111" font-weight="normal" >N</text>
<text x="49.10" y="180.76" font-size="3.6" text-anchor="middle" fill="#111" font-weight="normal" >H</text>
<text x="58.40" y="169.79" font-size="3.4" text-anchor="middle" fill="#111" font-weight="normal" >(S)</text>
<text x="67.40" y="173.74" font-size="4.4" text-anchor="middle" fill="#111" font-weight="normal" >OH</text>
<text x="60.10" y="183.54" font-size="4.4" text-anchor="middle" fill="#111" font-weight="normal" >O</text>
<text x="71.00" y="145.14" font-size="4.4" text-anchor="middle" fill="#111" font-weight="normal" >O</text>
<text x="81.70" y="163.84" font-size="4.4" text-anchor="middle" fill="#111" font-weight="normal" >O</text>
<text x="100.40" y="148.54" font-size="4.4" text-anchor="middle" fill="#111" font-weight="normal" >OH</text>
<text x="43.50" y="194.20" font-size="5.6" text-anchor="start" fill="#111" font-weight="normal" textLength="21.1" lengthAdjust="spacingAndGlyphs" >SLU-2615</text>
<text x="136.30" y="139.64" font-size="4.4" text-anchor="middle" fill="#111" font-weight="normal" >Cl</text>
<text x="119.20" y="155.14" font-size="4.4" text-anchor="middle" fill="#111" font-weight="normal" >Cl</text>
<text x="140.00" y="158.84" font-size="4.4" text-anchor="middle" fill="#111" font-weight="normal" >S</text>
<text x="144.30" y="155.14" font-size="4.4" text-anchor="middle" fill="#111" font-weight="normal" >O</text>
<text x="146.00" y="162.74" font-size="4.4" text-anchor="middle" fill="#111" font-weight="normal" >O</text>
<text x="139.70" y="165.94" font-size="4.4" text-anchor="middle" fill="#111" font-weight="normal" >N</text>
<text x="152.60" y="165.54" font-size="4.4" text-anchor="middle" fill="#111" font-weight="normal" >O</text>
<text x="153.40" y="175.14" font-size="4.4" text-anchor="middle" fill="#111" font-weight="normal" >N</text>
<text x="153.70" y="178.86" font-size="3.6" text-anchor="middle" fill="#111" font-weight="normal" >H</text>
<text x="171.80" y="176.44" font-size="4.4" text-anchor="middle" fill="#111" font-weight="normal" >OH</text>
<text x="162.90" y="184.14" font-size="4.4" text-anchor="middle" fill="#111" font-weight="normal" >O</text>
<text x="181.30" y="151.54" font-size="4.4" text-anchor="middle" fill="#111" font-weight="normal" >O</text>
<text x="185.80" y="144.94" font-size="4.4" text-anchor="middle" fill="#111" font-weight="normal" >Me</text>
<text x="187.50" y="171.44" font-size="4.4" text-anchor="middle" fill="#111" font-weight="normal" >O</text>
<text x="193.90" y="175.24" font-size="4.4" text-anchor="middle" fill="#111" font-weight="normal" >Me</text>
<text x="208.30" y="159.74" font-size="4.4" text-anchor="middle" fill="#111" font-weight="normal" >O</text>
<text x="220.30" y="159.30" font-size="5.5" text-anchor="middle" fill="#111" font-weight="normal" >(</text>
<text x="224.60" y="156.54" font-size="4.4" text-anchor="middle" fill="#111" font-weight="normal" >O</text>
<text x="236.20" y="159.30" font-size="5.5" text-anchor="middle" fill="#111" font-weight="normal" >)</text>
<text x="240.40" y="159.74" font-size="4.4" text-anchor="middle" fill="#111" font-weight="normal" >O</text>
<text x="256.30" y="156.54" font-size="4.4" text-anchor="middle" fill="#111" font-weight="normal" >O</text>
<text x="237.50" y="164.93" font-size="3.8" text-anchor="middle" fill="#111" font-weight="normal" >n</text>
<text x="221.90" y="170.00" font-size="5.0" text-anchor="start" fill="#111" font-weight="normal" textLength="30.7" lengthAdjust="spacingAndGlyphs" >PEG 500 mixture</text>
<text x="227.70" y="175.00" font-size="5.0" text-anchor="start" fill="#111" font-weight="normal" textLength="19.1" lengthAdjust="spacingAndGlyphs" >n = 1.6-29</text>
<text x="174.60" y="194.20" font-size="5.6" text-anchor="start" fill="#111" font-weight="normal" textLength="19.2" lengthAdjust="spacingAndGlyphs" >SLU-2609</text><text x="7.6" y="16" font-size="11.4" font-weight="bold" fill="#000" stroke="#000" stroke-width="0.35">A</text><text x="296.6" y="16" font-size="11.4" font-weight="bold" fill="#000" stroke="#000" stroke-width="0.35">B</text><text x="7.5" y="221.3" font-size="11.4" font-weight="bold" fill="#000" stroke="#000" stroke-width="0.35">C</text><text x="296.7" y="220.9" font-size="11.4" font-weight="bold" fill="#000" stroke="#000" stroke-width="0.35">D</text><rect x="0.5" y="0.5" width="519" height="386" fill="none" stroke="#555" stroke-width="1"/></svg></body></html>
